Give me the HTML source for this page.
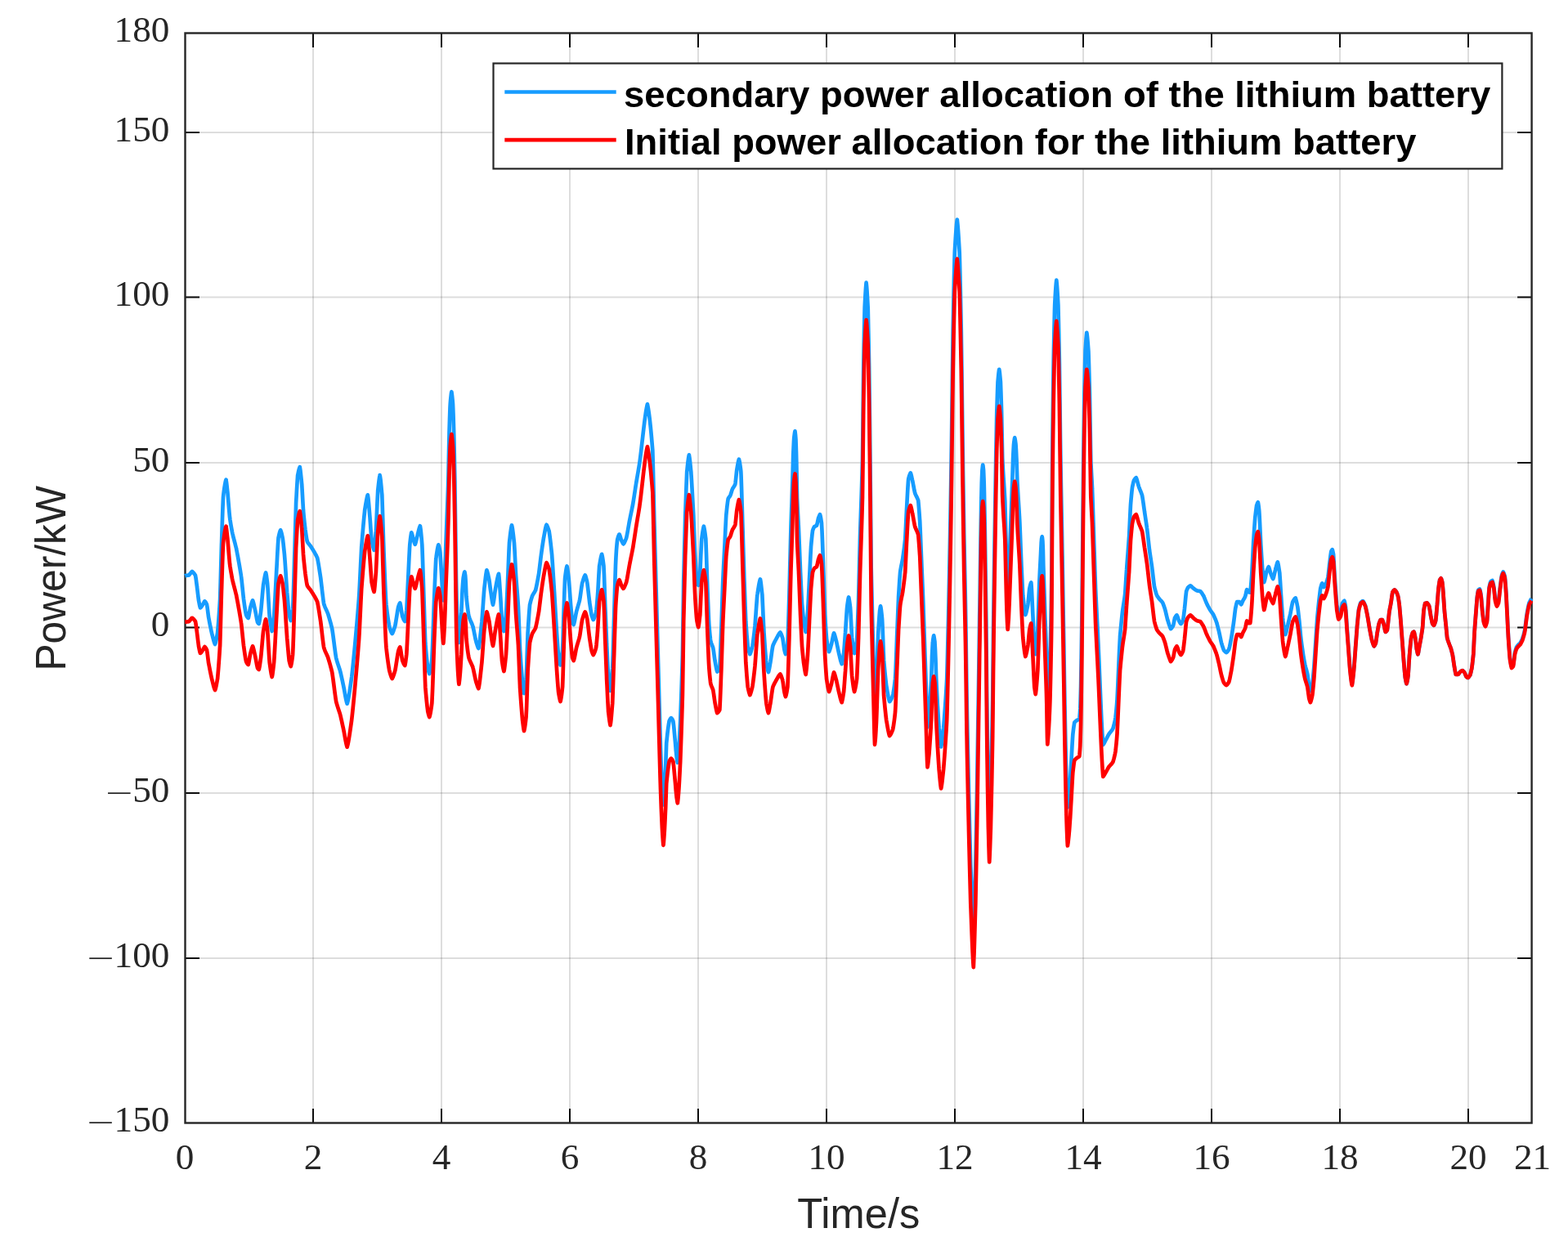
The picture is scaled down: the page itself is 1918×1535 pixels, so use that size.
<!DOCTYPE html>
<html lang="en">
<head>
<meta charset="utf-8">
<title>Lithium battery power allocation</title>
<style>
html,body{margin:0;padding:0;background:#ffffff;}
body{width:1918px;height:1535px;overflow:hidden;}
svg{display:block;}
</style>
</head>
<body>
<svg width="1918" height="1535" viewBox="0 0 1918 1535" role="img" aria-label="Lithium battery power allocation over time">
<rect x="0" y="0" width="1918" height="1535" fill="#ffffff"/>
<g stroke="#262626" stroke-opacity="0.155" stroke-width="2" fill="none">
<line x1="383.0" y1="40.5" x2="383.0" y2="1373.5"/>
<line x1="540.0" y1="40.5" x2="540.0" y2="1373.5"/>
<line x1="697.0" y1="40.5" x2="697.0" y2="1373.5"/>
<line x1="854.0" y1="40.5" x2="854.0" y2="1373.5"/>
<line x1="1011.0" y1="40.5" x2="1011.0" y2="1373.5"/>
<line x1="1168.0" y1="40.5" x2="1168.0" y2="1373.5"/>
<line x1="1325.0" y1="40.5" x2="1325.0" y2="1373.5"/>
<line x1="1482.0" y1="40.5" x2="1482.0" y2="1373.5"/>
<line x1="1639.0" y1="40.5" x2="1639.0" y2="1373.5"/>
<line x1="1796.0" y1="40.5" x2="1796.0" y2="1373.5"/>
<line x1="226.5" y1="162.0" x2="1873.6" y2="162.0"/>
<line x1="226.5" y1="363.5" x2="1873.6" y2="363.5"/>
<line x1="226.5" y1="566.0" x2="1873.6" y2="566.0"/>
<line x1="226.5" y1="767.5" x2="1873.6" y2="767.5"/>
<line x1="226.5" y1="970.0" x2="1873.6" y2="970.0"/>
<line x1="226.5" y1="1172.0" x2="1873.6" y2="1172.0"/>
</g>
<g stroke="#0d0d0d" stroke-width="2" fill="none">
<line x1="383.0" y1="1373.5" x2="383.0" y2="1356.0"/>
<line x1="383.0" y1="40.5" x2="383.0" y2="58.0"/>
<line x1="540.0" y1="1373.5" x2="540.0" y2="1356.0"/>
<line x1="540.0" y1="40.5" x2="540.0" y2="58.0"/>
<line x1="697.0" y1="1373.5" x2="697.0" y2="1356.0"/>
<line x1="697.0" y1="40.5" x2="697.0" y2="58.0"/>
<line x1="854.0" y1="1373.5" x2="854.0" y2="1356.0"/>
<line x1="854.0" y1="40.5" x2="854.0" y2="58.0"/>
<line x1="1011.0" y1="1373.5" x2="1011.0" y2="1356.0"/>
<line x1="1011.0" y1="40.5" x2="1011.0" y2="58.0"/>
<line x1="1168.0" y1="1373.5" x2="1168.0" y2="1356.0"/>
<line x1="1168.0" y1="40.5" x2="1168.0" y2="58.0"/>
<line x1="1325.0" y1="1373.5" x2="1325.0" y2="1356.0"/>
<line x1="1325.0" y1="40.5" x2="1325.0" y2="58.0"/>
<line x1="1482.0" y1="1373.5" x2="1482.0" y2="1356.0"/>
<line x1="1482.0" y1="40.5" x2="1482.0" y2="58.0"/>
<line x1="1639.0" y1="1373.5" x2="1639.0" y2="1356.0"/>
<line x1="1639.0" y1="40.5" x2="1639.0" y2="58.0"/>
<line x1="1796.0" y1="1373.5" x2="1796.0" y2="1356.0"/>
<line x1="1796.0" y1="40.5" x2="1796.0" y2="58.0"/>
<line x1="226.5" y1="162.0" x2="244.0" y2="162.0"/>
<line x1="1873.6" y1="162.0" x2="1856.1" y2="162.0"/>
<line x1="226.5" y1="363.5" x2="244.0" y2="363.5"/>
<line x1="1873.6" y1="363.5" x2="1856.1" y2="363.5"/>
<line x1="226.5" y1="566.0" x2="244.0" y2="566.0"/>
<line x1="1873.6" y1="566.0" x2="1856.1" y2="566.0"/>
<line x1="226.5" y1="767.5" x2="244.0" y2="767.5"/>
<line x1="1873.6" y1="767.5" x2="1856.1" y2="767.5"/>
<line x1="226.5" y1="970.0" x2="244.0" y2="970.0"/>
<line x1="1873.6" y1="970.0" x2="1856.1" y2="970.0"/>
<line x1="226.5" y1="1172.0" x2="244.0" y2="1172.0"/>
<line x1="1873.6" y1="1172.0" x2="1856.1" y2="1172.0"/>
</g>
<rect x="226.5" y="40.5" width="1647.1" height="1333.0" fill="none" stroke="#262626" stroke-width="2.4"/>
<g fill="none" stroke-linejoin="round" stroke-linecap="butt" stroke-width="4.7">
<path stroke="#169cff" d="M226.4 704.2 L226.5 704.1 L227.0 704.1 L227.5 704.0 L228.0 703.9 L228.5 703.9 L229.0 703.8 L229.5 703.7 L230.0 703.6 L230.5 703.6 L231.0 703.5 L231.0 703.5 L231.5 703.0 L232.0 702.5 L232.5 701.8 L233.0 701.2 L233.5 700.5 L234.0 699.9 L234.5 699.4 L235.0 699.0 L235.0 699.0 L235.5 699.3 L236.0 699.8 L236.5 700.3 L237.0 700.9 L237.5 701.5 L238.0 702.2 L238.5 703.0 L239.0 703.8 L239.0 703.9 L239.5 706.6 L240.0 710.1 L240.5 714.1 L241.0 717.9 L241.0 718.1 L241.5 722.0 L242.0 726.3 L242.5 730.4 L243.0 734.2 L243.0 734.3 L243.5 736.9 L244.0 739.5 L244.5 741.7 L245.0 743.3 L245.0 743.4 L245.5 743.0 L246.0 742.5 L246.5 741.8 L247.0 741.1 L247.5 740.3 L248.0 739.6 L248.0 739.5 L248.5 738.7 L249.0 737.7 L249.5 736.7 L250.0 735.8 L250.4 735.3 L250.5 735.3 L251.0 735.8 L251.5 736.5 L252.0 737.4 L252.5 738.3 L253.0 739.4 L253.0 739.4 L253.5 742.3 L254.0 746.2 L254.5 750.3 L255.0 754.1 L255.0 754.4 L255.5 756.9 L256.0 759.6 L256.5 762.2 L257.0 764.7 L257.5 767.1 L258.0 769.5 L258.5 771.9 L259.0 774.1 L259.0 774.3 L259.5 776.1 L260.0 778.1 L260.5 780.1 L261.0 782.0 L261.5 783.9 L262.0 785.5 L262.5 786.9 L263.0 788.0 L263.0 788.0 L263.5 786.7 L264.0 784.8 L264.5 782.5 L265.0 780.0 L265.5 777.2 L266.0 774.3 L266.1 774.0 L266.5 769.2 L267.0 763.4 L267.5 757.0 L268.0 750.1 L268.5 742.6 L269.0 734.6 L269.1 733.8 L269.5 719.9 L270.0 702.0 L270.5 683.2 L271.0 665.3 L271.1 663.6 L271.5 649.9 L272.0 634.5 L272.5 620.2 L273.0 608.4 L273.1 607.3 L273.5 603.7 L274.0 599.9 L274.5 596.4 L275.0 593.3 L275.5 590.6 L276.0 588.3 L276.5 586.7 L276.5 586.8 L277.0 589.8 L277.5 594.0 L278.0 598.8 L278.5 603.1 L278.5 603.5 L279.0 609.1 L279.5 615.1 L280.0 621.2 L280.5 627.1 L281.0 632.5 L281.1 633.1 L281.5 636.1 L282.0 639.3 L282.5 642.3 L283.0 645.2 L283.5 648.0 L284.0 650.7 L284.1 651.1 L284.5 653.0 L285.0 655.1 L285.5 657.1 L286.0 659.0 L286.5 660.9 L287.0 662.8 L287.5 664.7 L288.0 666.7 L288.5 668.7 L289.0 670.8 L289.1 671.1 L289.5 673.4 L290.0 676.0 L290.5 678.6 L291.0 681.3 L291.5 684.0 L292.0 686.8 L292.5 689.6 L293.0 692.5 L293.5 695.4 L294.0 698.4 L294.5 701.5 L295.0 704.7 L295.1 705.2 L295.5 708.8 L296.0 713.5 L296.5 718.3 L297.0 723.2 L297.5 728.0 L298.0 732.5 L298.1 733.2 L298.5 736.1 L299.0 739.7 L299.5 743.1 L300.0 746.4 L300.5 749.3 L301.0 751.8 L301.1 752.2 L301.5 753.0 L302.0 753.9 L302.5 754.7 L303.0 755.3 L303.5 755.9 L303.7 756.0 L304.0 755.0 L304.5 752.7 L305.0 749.8 L305.5 746.8 L306.0 744.1 L306.1 743.7 L306.5 742.2 L307.0 740.4 L307.5 738.6 L308.0 737.0 L308.5 735.6 L309.0 734.6 L309.1 734.4 L309.5 735.4 L310.0 737.1 L310.5 739.1 L311.0 741.3 L311.5 743.6 L312.0 745.8 L312.1 746.2 L312.5 748.2 L313.0 750.9 L313.5 753.7 L314.0 756.4 L314.5 758.8 L315.0 760.9 L315.1 761.2 L315.5 761.8 L316.0 762.4 L316.5 762.9 L316.7 763.0 L317.0 761.9 L317.5 759.2 L318.0 756.0 L318.5 752.3 L319.0 748.7 L319.1 747.9 L319.5 744.0 L320.0 738.5 L320.5 732.8 L321.0 727.0 L321.5 721.5 L322.0 716.5 L322.1 715.5 L322.5 713.2 L323.0 710.2 L323.5 707.3 L324.0 704.6 L324.5 702.4 L325.0 700.7 L325.1 700.4 L325.5 702.0 L326.0 705.0 L326.5 708.7 L327.0 712.6 L327.1 713.4 L327.5 718.7 L328.0 726.7 L328.5 735.2 L329.0 743.6 L329.5 751.1 L329.7 753.8 L330.0 756.0 L330.5 759.6 L331.0 763.1 L331.5 766.3 L332.0 769.1 L332.5 771.3 L332.7 772.0 L333.0 770.8 L333.5 767.8 L334.0 764.0 L334.5 759.8 L335.0 755.3 L335.1 754.2 L335.5 748.5 L336.0 740.0 L336.5 730.9 L337.0 721.3 L337.5 711.7 L338.0 702.4 L338.1 700.2 L338.5 693.3 L339.0 683.6 L339.5 674.1 L340.0 665.5 L340.5 658.4 L340.5 658.1 L341.0 655.8 L341.5 653.5 L342.0 651.5 L342.5 649.9 L343.0 648.6 L343.1 648.3 L343.5 649.2 L344.0 650.7 L344.5 652.6 L345.0 654.8 L345.5 657.1 L345.7 658.1 L346.0 660.2 L346.5 664.3 L347.0 668.9 L347.5 673.8 L348.0 678.8 L348.1 680.1 L348.5 685.1 L349.0 692.3 L349.5 699.9 L350.0 707.6 L350.5 715.1 L351.0 722.3 L351.1 724.2 L351.5 728.4 L352.0 734.3 L352.5 740.1 L353.0 745.5 L353.5 750.2 L353.7 752.2 L354.0 753.3 L354.5 755.3 L355.0 757.1 L355.5 758.5 L355.7 759.0 L356.0 758.2 L356.5 755.9 L357.0 753.0 L357.5 749.6 L358.0 745.8 L358.1 744.7 L358.5 736.4 L359.0 722.1 L359.5 705.9 L360.0 689.5 L360.1 684.8 L360.5 672.6 L361.0 654.3 L361.5 636.2 L362.0 619.6 L362.1 615.2 L362.5 608.4 L363.0 599.0 L363.5 590.6 L364.0 583.4 L364.1 581.6 L364.5 579.7 L365.0 577.3 L365.5 575.1 L366.0 573.2 L366.5 571.8 L366.8 571.2 L367.0 572.5 L367.5 575.9 L368.0 580.4 L368.5 585.3 L369.0 590.5 L369.2 592.2 L369.5 597.4 L370.0 606.2 L370.5 615.3 L371.0 623.8 L371.2 626.2 L371.5 629.7 L372.0 634.7 L372.5 639.4 L373.0 643.8 L373.5 648.1 L373.8 650.2 L374.0 651.8 L374.5 655.2 L375.0 658.3 L375.5 661.1 L375.8 662.3 L376.0 662.7 L376.5 663.6 L377.0 664.3 L377.5 665.0 L378.0 665.6 L378.5 666.2 L379.0 666.8 L379.5 667.5 L380.0 668.1 L380.2 668.4 L380.5 668.9 L381.0 669.7 L381.5 670.4 L382.0 671.2 L382.5 672.0 L383.0 672.8 L383.5 673.7 L384.0 674.5 L384.5 675.3 L385.0 676.2 L385.2 676.5 L385.5 677.1 L386.0 678.0 L386.5 678.9 L387.0 679.9 L387.5 681.0 L388.0 682.1 L388.2 682.5 L388.5 684.0 L389.0 686.6 L389.5 689.4 L390.0 692.5 L390.5 695.6 L391.0 698.9 L391.5 702.2 L392.0 705.4 L392.2 706.6 L392.5 709.1 L393.0 713.2 L393.5 717.5 L394.0 721.9 L394.5 726.2 L395.0 730.3 L395.5 734.2 L396.0 737.6 L396.2 738.7 L396.5 739.7 L397.0 741.0 L397.5 742.3 L398.0 743.5 L398.5 744.6 L399.0 745.7 L399.5 746.8 L400.0 747.9 L400.5 749.1 L401.0 750.3 L401.2 750.8 L401.5 751.8 L402.0 753.5 L402.5 755.1 L403.0 756.8 L403.5 758.6 L404.0 760.4 L404.5 762.2 L405.0 764.1 L405.5 766.1 L406.0 768.1 L406.2 768.9 L406.5 770.8 L407.0 774.2 L407.5 777.8 L408.0 781.6 L408.5 785.5 L409.0 789.5 L409.5 793.3 L410.0 797.1 L410.5 800.6 L411.0 803.8 L411.2 805.0 L411.5 806.2 L412.0 807.9 L412.5 809.6 L413.0 811.2 L413.5 812.7 L414.0 814.2 L414.5 815.7 L415.0 817.2 L415.5 818.8 L416.0 820.4 L416.2 821.1 L416.5 822.4 L417.0 824.5 L417.5 826.8 L418.0 829.0 L418.5 831.3 L419.0 833.6 L419.5 836.0 L420.0 838.3 L420.2 839.2 L420.5 840.7 L421.0 843.3 L421.5 846.1 L422.0 849.0 L422.5 851.8 L423.0 854.4 L423.5 856.8 L424.0 858.8 L424.5 860.4 L424.6 860.7 L425.0 859.5 L425.5 857.5 L426.0 855.2 L426.5 852.5 L427.0 849.6 L427.5 846.5 L428.0 843.2 L428.5 839.8 L429.0 836.3 L429.5 832.9 L430.0 829.4 L430.2 828.0 L430.5 825.5 L431.0 820.9 L431.5 816.2 L432.0 811.2 L432.5 806.2 L433.0 801.1 L433.5 795.9 L434.0 790.7 L434.2 788.4 L434.5 785.3 L435.0 779.7 L435.5 774.0 L436.0 768.4 L436.5 762.7 L437.0 756.9 L437.5 750.9 L438.0 744.8 L438.5 738.5 L439.0 732.0 L439.2 728.9 L439.5 724.0 L440.0 714.2 L440.5 703.8 L441.0 693.3 L441.5 683.0 L442.0 673.4 L442.2 669.3 L442.5 665.8 L443.0 659.4 L443.5 653.2 L444.0 647.2 L444.5 641.5 L445.0 636.0 L445.5 630.8 L446.0 625.9 L446.2 623.6 L446.5 622.0 L447.0 619.0 L447.5 615.9 L448.0 613.1 L448.5 610.4 L449.0 608.1 L449.5 606.2 L449.8 605.3 L450.0 606.2 L450.5 610.1 L451.0 615.3 L451.5 621.1 L452.0 627.1 L452.2 629.7 L452.5 633.1 L453.0 640.1 L453.5 647.3 L454.0 654.1 L454.5 660.0 L454.6 661.5 L455.0 663.2 L455.5 665.6 L456.0 667.8 L456.5 669.7 L457.0 671.4 L457.5 672.6 L457.6 672.9 L458.0 670.6 L458.5 665.9 L459.0 660.1 L459.5 653.8 L459.9 649.4 L460.0 646.7 L460.5 636.5 L461.0 625.3 L461.5 614.1 L462.0 604.1 L462.2 599.8 L462.5 597.4 L463.0 592.7 L463.5 588.4 L464.0 584.7 L464.5 581.9 L464.6 581.2 L465.0 583.0 L465.5 586.6 L466.0 591.2 L466.5 596.4 L467.0 602.1 L467.3 605.2 L467.5 611.3 L468.0 626.6 L468.5 643.7 L469.0 660.6 L469.3 668.6 L469.5 674.6 L470.0 687.2 L470.5 699.7 L471.0 711.7 L471.5 722.9 L472.0 732.9 L472.3 737.6 L472.5 739.8 L473.0 744.1 L473.5 748.2 L474.0 752.0 L474.5 755.5 L475.0 758.8 L475.5 761.9 L476.0 764.9 L476.3 766.4 L476.5 767.1 L477.0 768.7 L477.5 770.2 L478.0 771.6 L478.5 772.9 L479.0 774.0 L479.5 774.8 L479.7 775.0 L480.0 774.6 L480.5 773.6 L481.0 772.4 L481.5 771.1 L482.0 769.6 L482.5 768.1 L483.0 766.5 L483.3 765.6 L483.5 764.5 L484.0 761.8 L484.5 758.7 L485.0 755.5 L485.5 752.3 L486.0 749.1 L486.5 746.1 L487.0 743.4 L487.3 742.0 L487.5 741.4 L488.0 740.0 L488.5 738.8 L489.0 737.8 L489.3 737.4 L489.5 738.1 L490.0 740.4 L490.5 743.4 L491.0 746.7 L491.5 750.0 L492.0 752.9 L492.3 754.2 L492.5 754.7 L493.0 755.9 L493.5 757.1 L494.0 758.1 L494.5 759.0 L495.0 759.7 L495.3 760.0 L495.5 759.2 L496.0 756.4 L496.5 752.8 L497.0 748.7 L497.3 746.2 L497.5 742.8 L498.0 733.4 L498.5 722.9 L499.0 712.2 L499.3 706.2 L499.5 701.9 L500.0 691.2 L500.5 680.7 L501.0 671.0 L501.3 666.2 L501.5 664.2 L502.0 659.8 L502.5 655.8 L503.0 652.6 L503.3 651.3 L503.5 651.7 L504.0 653.2 L504.5 655.1 L505.0 657.1 L505.3 658.1 L505.5 658.8 L506.0 660.7 L506.5 662.5 L507.0 664.2 L507.5 665.5 L507.7 665.9 L508.0 665.2 L508.5 663.6 L509.0 661.6 L509.5 659.4 L510.0 657.3 L510.3 656.1 L510.5 655.4 L511.0 653.4 L511.5 651.4 L512.0 649.3 L512.5 647.4 L513.0 645.6 L513.5 644.2 L513.9 643.3 L514.0 643.8 L514.5 647.1 L515.0 651.5 L515.5 656.8 L516.0 662.6 L516.3 666.4 L516.5 670.9 L517.0 684.9 L517.5 700.7 L518.0 716.9 L518.3 726.6 L518.5 732.4 L519.0 748.4 L519.5 764.4 L520.0 779.0 L520.3 786.8 L520.5 789.2 L521.0 795.2 L521.5 800.7 L522.0 805.8 L522.5 810.4 L523.0 814.7 L523.3 817.1 L523.5 817.9 L524.0 820.0 L524.5 821.9 L525.0 823.4 L525.3 824.1 L525.5 823.5 L526.0 821.6 L526.5 819.2 L527.0 816.3 L527.5 813.1 L528.0 809.6 L528.3 807.3 L528.5 803.9 L529.0 792.5 L529.5 779.2 L530.0 764.8 L530.5 750.0 L531.0 735.8 L531.3 727.3 L531.5 723.1 L532.0 711.1 L532.5 699.3 L533.0 688.8 L533.3 683.1 L533.5 681.9 L534.0 678.3 L534.5 675.0 L535.0 672.0 L535.5 669.4 L536.0 667.4 L536.3 666.3 L536.5 666.8 L537.0 668.5 L537.5 670.8 L538.0 673.4 L538.3 675.3 L538.5 677.3 L539.0 684.6 L539.5 693.0 L540.0 701.7 L540.3 707.4 L540.5 710.4 L540.9 717.5 L541.0 719.2 L541.5 726.4 L541.5 726.5 L542.0 731.9 L542.3 734.4 L542.5 732.9 L543.0 726.0 L543.5 717.3 L543.6 715.6 L544.0 706.2 L544.5 693.3 L545.0 678.1 L545.3 667.7 L545.5 663.3 L546.0 650.2 L546.5 637.7 L547.0 625.2 L547.5 612.2 L548.0 598.2 L548.3 587.9 L548.5 580.4 L549.0 553.9 L549.5 530.7 L549.5 529.3 L550.0 512.8 L550.5 498.4 L550.7 494.6 L551.0 490.6 L551.5 485.4 L552.0 481.1 L552.4 479.2 L552.5 480.0 L553.0 483.7 L553.5 488.7 L554.0 494.5 L554.0 494.9 L554.5 507.3 L555.0 523.3 L555.2 531.1 L555.5 543.7 L556.0 569.5 L556.4 588.5 L556.5 598.4 L557.0 634.8 L557.5 672.7 L558.0 708.0 L558.4 728.8 L558.5 733.2 L559.0 746.1 L559.2 750.7 L559.5 757.6 L560.0 768.1 L560.1 769.8 L560.5 776.0 L561.0 782.8 L561.4 786.0 L561.5 785.3 L562.0 781.3 L562.5 776.3 L562.6 775.2 L563.0 770.2 L563.5 763.1 L563.5 762.8 L564.0 755.0 L564.4 748.7 L564.5 745.6 L565.0 733.8 L565.5 723.1 L565.5 722.8 L566.0 715.4 L566.5 708.9 L566.7 706.9 L567.0 705.1 L567.5 702.5 L568.0 700.4 L568.4 699.4 L568.5 699.9 L569.0 702.8 L569.2 704.2 L569.5 708.4 L569.8 713.6 L570.0 718.9 L570.4 728.5 L570.5 730.1 L571.0 735.2 L571.5 739.8 L572.0 743.8 L572.5 747.5 L573.0 750.9 L573.4 753.2 L573.5 753.6 L574.0 755.1 L574.5 756.5 L575.0 757.8 L575.5 759.0 L576.0 760.1 L576.5 761.3 L577.0 762.4 L577.5 763.7 L578.0 765.0 L578.4 766.0 L578.5 766.6 L579.0 768.7 L579.5 771.1 L580.0 773.5 L580.5 776.0 L581.0 778.5 L581.5 780.9 L582.0 783.2 L582.4 784.8 L582.5 785.2 L583.0 786.8 L583.5 788.4 L584.0 789.9 L584.5 791.3 L585.0 792.5 L585.4 793.0 L585.5 792.5 L586.0 789.8 L586.5 786.4 L587.0 782.5 L587.5 778.1 L588.0 773.5 L588.5 768.7 L589.0 763.9 L589.4 760.4 L589.5 758.9 L590.0 752.5 L590.5 745.5 L591.0 738.3 L591.5 731.2 L592.0 724.4 L592.4 719.7 L592.5 718.7 L593.0 714.4 L593.5 710.0 L594.0 705.8 L594.5 702.1 L595.0 699.1 L595.4 697.4 L595.5 697.6 L596.0 699.0 L596.5 700.8 L597.0 702.9 L597.5 705.2 L598.0 707.6 L598.4 709.5 L598.5 710.2 L599.0 713.9 L599.5 717.9 L600.0 721.7 L600.5 725.0 L601.0 728.5 L601.5 732.0 L602.0 735.1 L602.5 737.8 L603.0 739.8 L603.5 737.6 L604.0 734.6 L604.5 731.1 L605.0 727.3 L605.5 723.6 L606.0 720.3 L606.0 720.2 L606.5 717.7 L607.0 715.0 L607.5 712.3 L608.0 709.7 L608.5 707.2 L609.0 705.1 L609.5 703.2 L610.0 701.8 L610.0 701.8 L610.5 706.1 L611.0 712.4 L611.5 719.6 L612.0 726.7 L612.0 726.8 L612.5 734.7 L613.0 743.4 L613.5 751.8 L614.0 758.9 L614.0 759.0 L614.5 762.3 L615.0 765.5 L615.5 768.4 L616.0 770.7 L616.4 772.1 L616.5 771.8 L617.0 769.1 L617.5 765.5 L618.0 761.3 L618.5 756.6 L619.0 751.7 L619.0 751.5 L619.5 743.2 L620.0 733.3 L620.5 722.8 L621.0 712.1 L621.0 711.7 L621.5 700.0 L622.0 687.1 L622.5 674.7 L623.0 664.3 L623.0 663.9 L623.5 659.5 L624.0 655.1 L624.5 651.1 L625.0 647.5 L625.5 644.6 L626.0 642.4 L626.0 642.3 L626.5 644.5 L627.0 647.5 L627.5 651.2 L628.0 655.3 L628.5 659.7 L629.0 664.2 L629.0 664.5 L629.5 672.5 L630.0 682.4 L630.5 692.7 L631.0 702.3 L631.0 702.8 L631.5 709.4 L632.0 716.0 L632.5 722.3 L633.0 728.6 L633.5 735.4 L634.0 742.7 L634.0 743.4 L634.5 754.3 L635.0 767.4 L635.5 780.7 L636.0 792.8 L636.0 793.6 L636.5 800.7 L637.0 808.0 L637.5 814.9 L638.0 821.5 L638.5 827.7 L639.0 833.6 L639.0 834.0 L639.5 837.8 L640.0 841.9 L640.5 845.4 L641.0 848.0 L641.0 848.1 L641.5 846.2 L642.0 843.3 L642.5 839.9 L643.0 835.9 L643.5 831.5 L643.6 830.1 L644.0 822.1 L644.5 807.7 L645.0 792.1 L645.5 777.8 L645.6 774.1 L646.0 768.3 L646.5 760.4 L647.0 752.9 L647.5 746.3 L648.0 740.5 L648.0 740.0 L648.5 738.0 L649.0 735.9 L649.5 734.0 L650.0 732.3 L650.5 730.7 L651.0 729.1 L651.0 729.0 L651.5 728.1 L652.0 727.2 L652.5 726.3 L653.0 725.5 L653.5 724.7 L654.0 723.9 L654.5 723.0 L655.0 722.0 L655.1 721.9 L655.5 720.1 L656.0 717.9 L656.5 715.5 L657.0 713.0 L657.5 710.4 L658.0 707.7 L658.5 704.9 L659.0 702.1 L659.1 701.8 L659.5 698.5 L660.0 694.5 L660.5 690.4 L661.0 686.3 L661.5 682.1 L662.0 678.2 L662.1 677.7 L662.5 674.6 L663.0 671.2 L663.5 667.7 L664.0 664.4 L664.5 661.1 L665.0 658.0 L665.1 657.6 L665.5 655.3 L666.0 652.6 L666.5 649.9 L667.0 647.3 L667.5 645.0 L668.0 643.0 L668.5 641.8 L668.5 641.8 L669.0 642.6 L669.5 643.7 L670.0 644.9 L670.5 646.3 L671.0 647.8 L671.5 649.4 L671.7 649.9 L672.0 652.0 L672.5 655.6 L673.0 659.5 L673.5 663.7 L674.0 668.2 L674.5 672.8 L675.0 677.6 L675.1 678.4 L675.5 684.2 L676.0 691.5 L676.5 699.3 L677.0 707.3 L677.5 715.5 L678.0 723.5 L678.1 724.7 L678.5 731.7 L679.0 740.2 L679.5 748.8 L680.0 757.4 L680.5 765.7 L681.0 773.8 L681.1 775.1 L681.5 781.0 L682.0 788.0 L682.5 794.7 L683.0 800.5 L683.1 801.5 L683.5 804.0 L684.0 807.0 L684.5 809.7 L685.0 811.9 L685.5 813.4 L685.5 813.4 L686.0 811.3 L686.5 808.4 L687.0 804.9 L687.5 800.8 L688.0 796.4 L688.1 795.5 L688.5 784.8 L689.0 768.5 L689.5 751.4 L689.7 745.5 L690.0 736.4 L690.5 721.7 L691.0 709.1 L691.1 707.3 L691.5 703.9 L692.0 700.2 L692.5 696.9 L693.0 694.3 L693.5 692.4 L694.0 694.7 L694.5 698.0 L695.0 701.8 L695.5 705.9 L695.7 707.5 L696.0 711.0 L696.5 717.6 L697.0 724.6 L697.5 731.7 L698.0 738.5 L698.1 739.7 L698.5 744.2 L699.0 749.7 L699.5 754.9 L700.0 759.2 L700.1 760.0 L700.5 761.2 L701.0 762.6 L701.5 763.7 L701.7 764.0 L702.0 763.2 L702.5 761.3 L703.0 759.0 L703.5 756.4 L704.0 753.6 L704.5 750.9 L705.0 748.5 L705.1 748.0 L705.5 746.5 L706.0 744.8 L706.5 743.0 L707.0 741.4 L707.5 739.7 L708.0 737.9 L708.5 736.1 L709.0 734.1 L709.1 733.7 L709.5 731.3 L710.0 727.9 L710.5 724.3 L711.0 720.6 L711.5 717.2 L712.0 714.1 L712.1 713.4 L712.5 712.1 L713.0 710.5 L713.5 708.8 L714.0 707.3 L714.5 705.9 L715.0 704.7 L715.5 703.7 L715.7 703.4 L716.0 703.9 L716.5 705.3 L717.0 707.1 L717.5 709.0 L718.0 711.1 L718.1 711.6 L718.5 714.2 L719.0 718.1 L719.5 722.4 L720.0 726.8 L720.5 731.1 L721.0 735.2 L721.1 736.2 L721.5 738.8 L722.0 742.2 L722.5 745.5 L723.0 748.7 L723.5 751.6 L723.7 752.8 L724.0 753.6 L724.5 755.1 L725.0 756.5 L725.5 757.6 L725.7 758.0 L726.0 757.6 L726.5 756.7 L727.0 755.6 L727.5 754.3 L728.0 752.8 L728.5 751.2 L729.0 749.5 L729.1 749.0 L729.5 745.8 L730.0 740.6 L730.5 734.7 L731.0 728.5 L731.1 726.8 L731.5 720.9 L732.0 711.7 L732.5 702.5 L733.0 694.6 L733.1 692.7 L733.5 690.4 L734.0 687.3 L734.5 684.5 L735.0 681.9 L735.5 679.8 L736.0 678.1 L736.1 677.8 L736.5 679.1 L737.0 681.7 L737.5 684.8 L738.0 688.5 L738.5 692.6 L738.5 692.9 L739.0 703.6 L739.5 718.2 L740.0 733.2 L740.1 737.4 L740.5 746.4 L741.0 759.2 L741.5 771.8 L742.0 784.1 L742.1 787.7 L742.5 795.2 L743.0 806.1 L743.5 816.4 L744.0 825.6 L744.1 828.0 L744.5 831.1 L745.0 835.4 L745.5 839.3 L746.0 842.5 L746.5 844.8 L746.5 845.0 L747.0 842.0 L747.5 837.5 L748.0 832.1 L748.5 826.0 L749.0 819.5 L749.2 817.4 L749.5 808.7 L750.0 794.0 L750.5 776.3 L751.0 758.8 L751.2 753.4 L751.5 741.7 L752.0 724.1 L752.5 706.9 L753.0 691.3 L753.2 686.9 L753.5 680.9 L754.0 672.6 L754.5 666.6 L755.0 661.5 L755.2 660.1 L755.5 658.9 L756.0 657.1 L756.5 655.6 L757.0 654.4 L757.5 653.5 L757.6 653.5 L758.0 654.4 L758.5 655.8 L759.0 657.4 L759.5 659.0 L760.0 660.6 L760.2 661.0 L760.5 661.7 L761.0 662.8 L761.5 663.8 L762.0 664.7 L762.5 665.3 L762.6 665.4 L763.0 664.9 L763.5 664.1 L764.0 663.1 L764.5 662.0 L765.0 660.8 L765.5 659.6 L766.0 658.3 L766.2 657.9 L766.5 656.4 L767.0 654.0 L767.5 651.4 L768.0 648.6 L768.5 645.7 L769.0 642.8 L769.5 639.9 L770.0 637.2 L770.2 636.2 L770.5 634.6 L771.0 632.1 L771.5 629.7 L772.0 627.3 L772.5 624.9 L773.0 622.5 L773.5 620.0 L774.0 617.5 L774.2 616.5 L774.5 614.6 L775.0 611.5 L775.5 608.3 L776.0 605.0 L776.5 601.8 L777.0 598.5 L777.5 595.2 L778.0 592.0 L778.2 590.8 L778.5 589.0 L779.0 586.0 L779.5 583.1 L780.0 580.2 L780.5 577.3 L781.0 574.3 L781.5 571.4 L782.0 568.3 L782.2 567.2 L782.5 565.0 L783.0 561.2 L783.5 557.3 L784.0 553.2 L784.5 548.9 L785.0 544.6 L785.5 540.3 L786.0 535.9 L786.5 531.5 L787.0 527.2 L787.5 522.9 L788.0 518.8 L788.5 514.8 L789.0 511.0 L789.5 507.5 L790.0 504.1 L790.5 501.1 L791.0 498.4 L791.5 496.0 L791.9 494.3 L792.0 494.7 L792.5 497.2 L793.0 500.0 L793.5 503.3 L794.0 506.9 L794.5 510.8 L795.0 515.1 L795.5 519.7 L796.0 524.6 L796.5 529.8 L797.0 535.3 L797.5 541.1 L798.0 547.2 L798.3 550.8 L798.5 557.6 L799.0 577.3 L799.5 600.0 L800.0 623.1 L800.3 636.9 L800.5 643.7 L801.0 662.4 L801.5 680.8 L802.0 699.0 L802.5 717.0 L803.0 735.0 L803.5 752.9 L804.0 770.9 L804.5 788.9 L804.8 799.8 L805.0 807.1 L805.5 825.6 L806.0 844.3 L806.5 862.9 L807.0 881.1 L807.5 898.9 L807.8 908.5 L808.0 915.0 L808.5 929.3 L808.8 937.5 L809.0 942.4 L809.5 954.3 L809.9 963.0 L810.0 964.6 L810.5 972.7 L811.0 979.9 L811.4 984.3 L811.5 983.9 L812.0 978.7 L812.5 971.5 L813.0 963.7 L813.0 963.3 L813.5 953.4 L814.0 942.0 L814.2 938.0 L814.5 928.7 L815.0 914.4 L815.2 909.0 L815.5 906.1 L816.0 901.2 L816.5 896.6 L817.0 892.5 L817.5 888.8 L818.0 885.4 L818.5 882.5 L818.6 881.9 L819.0 881.0 L819.5 880.1 L820.0 879.2 L820.5 878.5 L820.9 878.1 L821.0 878.1 L821.5 878.6 L822.0 879.3 L822.5 880.1 L823.0 881.1 L823.4 881.8 L823.5 882.7 L824.0 886.7 L824.5 891.6 L825.0 897.0 L825.5 902.6 L826.0 908.1 L826.1 909.0 L826.5 913.9 L826.8 917.9 L827.0 919.5 L827.5 924.4 L827.6 925.7 L828.0 928.2 L828.5 931.5 L828.8 932.8 L829.0 931.5 L829.5 926.8 L830.0 920.9 L830.2 918.5 L830.5 914.0 L831.0 905.5 L831.2 901.5 L831.5 896.2 L832.0 885.9 L832.2 882.0 L832.5 873.4 L833.0 859.8 L833.5 845.7 L834.0 830.7 L834.5 814.5 L834.9 800.8 L835.0 794.6 L835.5 761.4 L836.0 726.5 L836.2 710.9 L836.5 699.7 L837.0 678.7 L837.5 658.9 L838.0 640.1 L838.2 631.0 L838.5 623.6 L839.0 608.8 L839.5 594.7 L840.0 582.4 L840.2 577.1 L840.5 574.5 L841.0 569.6 L841.5 565.1 L842.0 561.2 L842.5 558.1 L842.9 556.4 L843.0 557.1 L843.5 560.2 L844.0 564.4 L844.5 569.2 L845.0 574.2 L845.3 576.9 L845.5 580.4 L846.0 588.5 L846.5 597.1 L847.0 606.2 L847.5 615.6 L848.0 625.2 L848.3 630.3 L848.5 636.0 L849.0 648.7 L849.5 661.7 L850.0 674.1 L850.3 679.9 L850.5 683.7 L851.0 691.3 L851.5 698.4 L852.0 704.7 L852.3 707.5 L852.5 708.8 L853.0 711.4 L853.5 713.6 L854.0 715.3 L854.3 715.9 L854.5 714.8 L855.0 711.6 L855.5 707.5 L856.0 702.9 L856.3 700.3 L856.5 696.3 L857.0 685.8 L857.5 674.5 L858.0 664.1 L858.3 659.5 L858.5 657.8 L859.0 654.0 L859.5 650.6 L860.0 647.6 L860.5 645.1 L860.9 643.7 L861.0 644.1 L861.5 646.4 L862.0 649.3 L862.5 652.8 L863.0 656.7 L863.3 658.9 L863.5 663.9 L864.0 677.7 L864.5 693.5 L865.0 709.4 L865.3 717.5 L865.5 722.9 L866.0 735.3 L866.5 747.3 L867.0 758.3 L867.3 763.8 L867.5 766.5 L868.0 772.2 L868.5 777.4 L869.0 782.0 L869.3 784.2 L869.5 785.0 L870.0 786.5 L870.5 787.8 L871.0 789.1 L871.5 790.4 L872.0 791.8 L872.3 792.7 L872.5 794.0 L873.0 797.2 L873.5 800.8 L874.0 804.5 L874.5 808.0 L874.7 809.2 L875.0 810.9 L875.5 813.6 L876.0 816.3 L876.5 818.7 L877.0 820.6 L877.3 821.5 L877.5 821.3 L878.0 821.0 L878.5 820.5 L879.0 819.9 L879.5 819.1 L880.0 818.3 L880.3 817.8 L880.5 814.6 L881.0 804.2 L881.5 791.3 L882.0 777.5 L882.3 769.9 L882.5 763.9 L883.0 748.7 L883.5 733.1 L884.0 718.1 L884.3 709.7 L884.5 705.4 L885.0 695.2 L885.5 685.4 L886.0 675.7 L886.3 669.8 L886.5 665.8 L887.0 655.2 L887.5 644.7 L888.0 635.0 L888.3 629.9 L888.5 627.9 L889.0 623.0 L889.5 618.5 L890.0 614.5 L890.5 611.1 L890.7 610.0 L891.0 609.4 L891.5 608.6 L892.0 607.9 L892.5 607.3 L893.0 606.6 L893.3 606.0 L893.5 605.5 L894.0 604.1 L894.5 602.5 L895.0 600.9 L895.5 599.3 L895.9 598.2 L896.0 598.0 L896.5 597.1 L897.0 596.3 L897.5 595.6 L898.0 594.8 L898.5 594.0 L899.0 593.0 L899.3 592.3 L899.5 591.1 L900.0 586.8 L900.5 581.9 L901.0 577.0 L901.3 574.4 L901.5 573.3 L902.0 570.4 L902.5 567.6 L903.0 565.1 L903.5 563.0 L903.9 561.7 L904.0 562.0 L904.5 564.0 L905.0 566.8 L905.5 570.1 L906.0 573.8 L906.3 576.5 L906.5 580.6 L907.0 595.0 L907.5 612.0 L908.0 629.6 L908.3 640.4 L908.5 646.3 L909.0 663.0 L909.5 679.7 L910.0 696.1 L910.3 706.3 L910.5 711.5 L911.0 725.8 L911.5 739.8 L912.0 752.8 L912.3 760.5 L912.5 763.0 L913.0 770.1 L913.5 776.8 L914.0 782.8 L914.5 788.2 L914.7 790.4 L915.0 791.6 L915.5 793.9 L916.0 796.0 L916.5 797.9 L917.0 799.3 L917.3 800.1 L917.5 799.8 L918.0 798.7 L918.5 797.3 L919.0 795.7 L919.5 793.9 L920.0 792.0 L920.3 790.7 L920.5 789.7 L921.0 786.3 L921.5 782.6 L922.0 778.6 L922.5 774.5 L923.0 770.1 L923.3 767.1 L923.5 765.3 L924.0 758.8 L924.5 751.8 L925.0 744.7 L925.5 737.8 L926.0 731.4 L926.3 727.6 L926.5 726.6 L927.0 723.3 L927.5 720.1 L928.0 717.0 L928.5 714.2 L929.0 711.8 L929.5 709.7 L929.9 708.4 L930.0 708.6 L930.5 711.3 L931.0 715.0 L931.5 719.4 L932.0 724.2 L932.4 727.8 L932.5 730.4 L933.0 740.9 L933.5 752.6 L934.0 764.1 L934.4 771.4 L934.5 773.6 L935.0 781.0 L935.5 788.2 L936.0 795.0 L936.5 801.4 L937.0 807.2 L937.4 810.8 L937.5 811.6 L938.0 814.3 L938.5 816.8 L939.0 819.1 L939.5 820.9 L940.0 822.1 L940.0 822.0 L940.5 820.2 L941.0 817.8 L941.5 815.0 L942.0 812.1 L942.4 810.1 L942.5 809.2 L943.0 805.8 L943.5 802.2 L944.0 798.5 L944.5 795.0 L945.0 791.8 L945.4 789.9 L945.5 789.5 L946.0 788.3 L946.5 787.2 L947.0 786.1 L947.5 785.1 L948.0 784.2 L948.5 783.2 L949.0 782.3 L949.4 781.6 L949.5 781.4 L950.0 780.5 L950.5 779.5 L951.0 778.6 L951.5 777.6 L952.0 776.7 L952.5 775.9 L953.0 775.1 L953.5 774.4 L954.0 773.8 L954.4 773.4 L954.5 773.6 L955.0 774.4 L955.5 775.5 L956.0 776.7 L956.5 778.1 L957.0 779.6 L957.4 780.8 L957.5 781.5 L958.0 784.8 L958.5 788.5 L959.0 792.1 L959.4 794.5 L959.5 795.0 L960.0 797.1 L960.5 798.9 L961.0 800.1 L961.0 800.0 L961.5 798.4 L962.0 796.3 L962.5 793.7 L963.0 790.7 L963.4 788.2 L963.5 785.7 L964.0 773.0 L964.5 757.5 L965.0 740.7 L965.4 728.1 L965.5 723.6 L966.0 703.8 L966.5 683.1 L967.0 662.8 L967.4 648.1 L967.5 644.3 L968.0 629.1 L968.5 614.5 L969.0 599.7 L969.4 588.0 L969.5 583.8 L970.0 564.9 L970.2 556.3 L970.5 550.2 L971.0 539.4 L971.2 536.3 L971.5 533.5 L972.0 529.8 L972.5 527.3 L972.5 527.4 L973.0 531.8 L973.5 538.3 L973.5 539.1 L974.0 553.7 L974.3 565.8 L974.5 576.9 L975.0 607.2 L975.0 608.0 L975.5 619.2 L976.0 628.9 L976.5 637.9 L977.0 647.6 L977.0 648.0 L977.5 659.8 L978.0 672.5 L978.5 685.3 L979.0 697.6 L979.0 698.1 L979.5 708.3 L980.0 718.8 L980.5 728.7 L981.0 737.8 L981.0 738.1 L981.5 743.5 L982.0 748.7 L982.5 753.5 L983.0 758.0 L983.0 758.1 L983.5 761.4 L984.0 764.7 L984.5 767.9 L985.0 770.6 L985.5 772.6 L985.6 773.0 L986.0 770.7 L986.5 766.3 L987.0 760.9 L987.5 754.9 L988.0 748.8 L988.0 748.5 L988.5 740.0 L989.0 730.0 L989.5 719.6 L990.0 709.3 L990.0 708.7 L990.5 699.1 L991.0 688.6 L991.5 678.5 L992.0 669.4 L992.0 668.9 L992.5 663.5 L993.0 658.2 L993.5 653.3 L994.0 649.3 L994.0 649.1 L994.5 647.7 L995.0 646.4 L995.5 645.3 L996.0 644.4 L996.0 644.3 L996.5 644.0 L997.0 643.7 L997.5 643.5 L998.0 643.3 L998.5 643.0 L999.0 642.7 L999.0 642.6 L999.5 641.0 L1000.0 638.7 L1000.5 636.2 L1001.0 634.0 L1001.0 633.9 L1001.5 632.6 L1002.0 631.3 L1002.5 630.1 L1003.0 629.3 L1003.0 629.3 L1003.5 630.9 L1004.0 633.4 L1004.5 636.5 L1005.0 639.9 L1005.0 640.3 L1005.5 649.4 L1006.0 661.8 L1006.5 675.5 L1007.0 689.2 L1007.0 690.5 L1007.5 704.1 L1008.0 720.0 L1008.5 735.5 L1009.0 749.5 L1009.0 750.7 L1009.5 758.5 L1010.0 766.6 L1010.5 773.9 L1011.0 780.3 L1011.0 780.9 L1011.5 784.0 L1012.0 787.2 L1012.5 790.2 L1013.0 792.9 L1013.5 795.2 L1014.0 796.9 L1014.1 797.1 L1014.5 796.2 L1015.0 794.9 L1015.5 793.3 L1016.0 791.6 L1016.5 789.7 L1017.0 788.0 L1017.1 787.8 L1017.5 785.8 L1018.0 783.3 L1018.5 780.7 L1019.0 778.2 L1019.5 776.1 L1020.0 774.6 L1020.1 774.4 L1020.5 775.4 L1021.0 776.8 L1021.5 778.5 L1022.0 780.4 L1022.5 782.4 L1023.0 784.3 L1023.1 784.6 L1023.5 786.5 L1024.0 788.9 L1024.5 791.3 L1025.0 793.8 L1025.5 796.2 L1026.0 798.6 L1026.1 798.9 L1026.5 800.6 L1027.0 802.7 L1027.5 804.9 L1028.0 806.9 L1028.5 808.8 L1029.0 810.4 L1029.5 811.7 L1029.7 812.1 L1030.0 811.0 L1030.5 808.8 L1031.0 806.1 L1031.5 803.0 L1032.0 799.7 L1032.1 799.2 L1032.5 794.5 L1033.0 788.1 L1033.5 781.2 L1034.0 774.3 L1034.1 773.2 L1034.5 766.8 L1035.0 758.8 L1035.5 751.1 L1036.0 744.2 L1036.1 743.2 L1036.5 739.9 L1037.0 736.2 L1037.5 733.0 L1038.0 730.7 L1038.1 730.4 L1038.5 732.1 L1039.0 735.1 L1039.5 738.6 L1040.0 742.5 L1040.1 743.2 L1040.5 749.9 L1041.0 759.5 L1041.5 769.4 L1042.0 778.0 L1042.1 779.3 L1042.5 782.7 L1043.0 786.7 L1043.5 790.4 L1044.0 793.8 L1044.5 796.6 L1045.0 798.8 L1045.1 799.1 L1045.5 797.8 L1046.0 795.9 L1046.5 793.5 L1047.0 790.7 L1047.5 787.6 L1048.0 784.2 L1048.1 783.5 L1048.5 775.6 L1049.0 763.7 L1049.5 750.3 L1050.0 736.3 L1050.1 733.8 L1050.5 718.5 L1051.0 698.1 L1051.5 677.3 L1052.0 657.4 L1052.1 653.7 L1052.5 641.2 L1053.0 626.5 L1053.5 612.0 L1054.0 597.0 L1054.1 593.8 L1054.5 580.5 L1055.0 562.0 L1055.0 560.6 L1055.5 521.5 L1056.0 474.0 L1056.3 446.8 L1056.5 436.3 L1057.0 408.1 L1057.5 383.6 L1057.7 375.5 L1058.0 369.6 L1058.5 360.4 L1059.0 352.6 L1059.5 346.8 L1059.6 345.7 L1060.0 349.2 L1060.5 355.7 L1061.0 363.9 L1061.5 373.1 L1061.7 376.1 L1062.0 390.5 L1062.5 415.3 L1063.0 442.8 L1063.1 447.9 L1063.5 480.1 L1064.0 523.1 L1064.4 562.5 L1064.5 568.5 L1065.0 623.2 L1065.5 676.5 L1065.7 695.4 L1066.0 709.6 L1066.5 730.9 L1067.0 751.1 L1067.1 755.7 L1067.5 771.4 L1068.0 791.3 L1068.5 811.2 L1069.0 831.4 L1069.1 836.0 L1069.4 847.6 L1069.5 852.5 L1069.7 857.8 L1070.0 866.2 L1070.0 866.8 L1070.5 862.8 L1070.9 858.0 L1071.0 856.7 L1071.5 848.6 L1071.5 848.0 L1072.0 839.0 L1072.1 836.5 L1072.5 825.7 L1073.0 810.1 L1073.5 794.3 L1074.0 779.8 L1074.1 776.8 L1074.5 770.3 L1075.0 762.3 L1075.5 754.9 L1076.0 748.5 L1076.1 747.1 L1076.5 744.5 L1077.0 741.8 L1077.1 741.4 L1077.5 743.3 L1078.0 746.9 L1078.5 751.3 L1079.0 756.2 L1079.1 757.4 L1079.5 765.5 L1080.0 778.7 L1080.5 792.6 L1081.0 805.0 L1081.1 807.7 L1081.5 812.1 L1082.0 817.8 L1082.5 823.0 L1083.0 827.9 L1083.5 832.5 L1084.0 836.8 L1084.1 837.9 L1084.5 840.2 L1085.0 843.2 L1085.5 846.1 L1086.0 849.0 L1086.5 851.7 L1087.0 854.1 L1087.5 856.1 L1088.0 857.8 L1088.1 858.1 L1088.5 857.8 L1089.0 857.1 L1089.5 856.3 L1090.0 855.5 L1090.5 854.5 L1091.0 853.4 L1091.5 852.2 L1092.0 851.0 L1092.1 850.7 L1092.5 848.7 L1093.0 845.7 L1093.5 842.4 L1094.0 838.7 L1094.5 834.7 L1095.0 830.2 L1095.1 828.9 L1095.5 821.6 L1096.0 809.4 L1096.5 796.0 L1097.0 782.7 L1097.1 779.1 L1097.5 770.0 L1098.0 757.0 L1098.5 744.3 L1099.0 732.4 L1099.1 729.3 L1099.5 723.2 L1100.0 715.2 L1100.5 707.7 L1101.0 701.1 L1101.2 699.3 L1101.5 697.1 L1102.0 694.3 L1102.5 691.8 L1103.0 689.5 L1103.5 687.0 L1104.0 684.4 L1104.2 683.6 L1104.5 681.1 L1105.0 677.5 L1105.5 673.8 L1106.0 670.0 L1106.5 665.8 L1107.0 661.3 L1107.2 659.8 L1107.5 653.8 L1108.0 643.9 L1108.5 633.4 L1109.0 623.0 L1109.2 619.9 L1109.5 613.7 L1110.0 604.3 L1110.5 595.4 L1111.0 588.0 L1111.2 586.1 L1111.5 584.7 L1112.0 582.9 L1112.5 581.3 L1113.0 580.0 L1113.5 578.9 L1113.8 578.5 L1114.0 579.1 L1114.5 580.6 L1115.0 582.6 L1115.5 584.9 L1116.0 587.1 L1116.2 587.8 L1116.5 589.5 L1117.0 592.1 L1117.5 594.8 L1118.0 597.5 L1118.5 600.1 L1119.0 602.4 L1119.2 603.1 L1119.5 604.0 L1120.0 605.1 L1120.5 606.2 L1121.0 607.1 L1121.5 608.1 L1122.0 609.1 L1122.5 610.3 L1123.0 611.7 L1123.2 612.2 L1123.5 615.4 L1124.0 621.2 L1124.5 627.8 L1125.0 634.8 L1125.2 637.3 L1125.5 644.4 L1126.0 656.3 L1126.5 669.0 L1127.0 681.7 L1127.2 685.9 L1127.5 693.9 L1128.0 705.9 L1128.5 717.9 L1129.0 730.3 L1129.2 734.8 L1129.5 743.9 L1130.0 758.5 L1130.5 773.4 L1131.0 788.2 L1131.2 793.5 L1131.5 802.8 L1132.0 817.1 L1132.5 831.5 L1133.0 846.5 L1133.2 852.2 L1133.5 864.5 L1133.5 866.4 L1134.0 878.8 L1134.0 879.9 L1134.5 889.3 L1134.5 889.4 L1135.0 886.5 L1135.5 882.3 L1136.0 877.5 L1136.5 872.8 L1136.5 872.4 L1137.0 865.8 L1137.5 858.7 L1137.9 853.1 L1138.0 851.2 L1138.5 843.1 L1139.0 834.3 L1139.2 830.6 L1139.5 820.7 L1140.0 803.8 L1140.0 802.9 L1140.5 793.0 L1140.9 785.5 L1141.0 784.9 L1141.5 781.1 L1142.0 778.2 L1142.2 777.4 L1142.5 778.7 L1143.0 781.8 L1143.5 785.2 L1143.5 785.9 L1144.0 795.0 L1144.3 802.4 L1144.5 806.9 L1145.0 823.9 L1145.2 829.9 L1145.5 836.5 L1146.0 846.4 L1146.5 855.7 L1146.8 862.1 L1147.0 864.6 L1147.5 872.9 L1148.0 880.9 L1148.5 888.4 L1148.6 890.2 L1149.0 894.2 L1149.5 899.7 L1150.0 904.9 L1150.5 909.4 L1151.0 912.8 L1151.1 913.5 L1151.5 911.8 L1152.0 908.6 L1152.5 904.8 L1153.0 900.4 L1153.5 895.9 L1154.0 891.3 L1154.1 890.4 L1154.5 885.7 L1155.0 879.3 L1155.5 872.5 L1156.0 865.6 L1156.2 862.6 L1156.5 858.3 L1157.0 850.8 L1157.5 843.0 L1158.0 834.3 L1158.2 830.3 L1158.5 820.6 L1159.0 801.6 L1159.5 780.9 L1160.0 759.5 L1160.2 750.5 L1160.5 736.8 L1161.0 712.5 L1161.5 687.5 L1162.0 661.8 L1162.2 650.8 L1162.5 633.9 L1163.0 604.1 L1163.5 573.1 L1163.7 557.8 L1164.0 538.2 L1164.5 498.1 L1165.0 457.3 L1165.5 418.8 L1165.7 404.7 L1166.0 389.2 L1166.5 363.9 L1167.0 340.3 L1167.5 319.3 L1167.8 308.5 L1168.0 304.9 L1168.5 296.5 L1169.0 288.5 L1169.5 281.4 L1170.0 275.3 L1170.5 270.5 L1170.8 268.6 L1171.0 270.6 L1171.5 275.6 L1172.0 281.8 L1172.5 289.1 L1173.0 297.1 L1173.5 305.7 L1173.7 309.1 L1174.0 320.4 L1174.5 341.6 L1175.0 365.3 L1175.5 390.8 L1175.8 405.9 L1176.0 420.7 L1176.5 459.2 L1177.0 500.0 L1177.5 540.3 L1177.8 559.4 L1178.0 575.9 L1178.5 608.1 L1179.0 639.2 L1179.2 653.1 L1179.5 667.1 L1180.0 691.6 L1180.5 715.6 L1181.0 740.9 L1181.2 753.3 L1181.5 772.7 L1182.0 811.7 L1182.5 849.2 L1182.6 853.3 L1183.0 876.2 L1183.5 900.8 L1184.0 924.3 L1184.5 947.1 L1184.9 963.4 L1185.0 969.2 L1185.5 989.7 L1186.0 1009.9 L1186.5 1029.5 L1187.0 1048.0 L1187.3 1059.2 L1187.5 1063.9 L1188.0 1077.2 L1188.5 1090.5 L1189.0 1103.4 L1189.5 1115.2 L1190.0 1125.5 L1190.5 1133.8 L1190.8 1137.2 L1191.0 1133.1 L1191.5 1121.1 L1192.0 1105.7 L1192.5 1088.3 L1193.0 1070.2 L1193.3 1059.8 L1193.5 1049.9 L1194.0 1024.5 L1194.5 997.4 L1195.0 969.5 L1195.1 964.5 L1195.5 938.6 L1196.0 906.0 L1196.5 872.8 L1196.8 855.0 L1197.0 839.6 L1197.5 805.9 L1198.0 772.0 L1198.2 755.0 L1198.5 737.4 L1199.0 701.1 L1199.5 665.0 L1200.0 630.9 L1200.2 615.2 L1200.5 603.7 L1200.8 590.9 L1201.0 585.4 L1201.4 575.5 L1201.5 574.6 L1202.0 570.0 L1202.2 568.5 L1202.5 570.0 L1203.0 574.6 L1203.1 575.5 L1203.5 585.4 L1203.7 590.8 L1204.0 603.6 L1204.2 615.1 L1204.5 630.5 L1205.0 663.3 L1205.5 698.4 L1206.0 735.6 L1206.3 755.8 L1206.5 780.8 L1207.0 836.4 L1207.2 854.8 L1207.5 878.8 L1208.0 913.3 L1208.0 915.3 L1208.5 943.6 L1208.9 967.2 L1209.0 970.0 L1209.5 989.7 L1210.0 1005.8 L1210.2 1009.7 L1210.5 1004.6 L1211.0 992.6 L1211.5 978.0 L1211.9 967.0 L1212.0 962.0 L1212.5 940.8 L1213.0 918.2 L1213.1 915.0 L1213.5 893.2 L1214.0 866.4 L1214.2 855.2 L1214.5 828.0 L1215.0 779.6 L1215.3 755.0 L1215.5 738.5 L1216.0 703.5 L1216.5 669.8 L1217.0 637.1 L1217.5 605.2 L1218.0 574.1 L1218.2 561.8 L1218.5 545.4 L1219.0 519.1 L1219.3 503.9 L1219.5 497.7 L1220.0 481.4 L1220.5 467.9 L1220.5 467.5 L1221.0 461.9 L1221.5 456.8 L1222.0 452.9 L1222.2 451.8 L1222.5 453.4 L1223.0 457.4 L1223.5 462.6 L1223.9 466.9 L1224.0 469.7 L1224.5 483.8 L1225.0 500.2 L1225.1 503.0 L1225.5 524.5 L1226.0 551.6 L1226.2 560.5 L1226.5 566.9 L1227.0 576.0 L1227.5 583.8 L1228.0 591.2 L1228.5 598.8 L1229.0 607.4 L1229.3 612.9 L1229.5 620.4 L1230.0 639.9 L1230.5 661.0 L1231.0 681.7 L1231.3 692.3 L1231.5 698.7 L1231.7 703.4 L1232.0 711.2 L1232.1 713.3 L1232.5 719.7 L1232.7 721.5 L1233.0 718.4 L1233.5 711.1 L1233.8 706.7 L1234.0 702.2 L1234.5 691.0 L1234.6 689.6 L1235.0 677.9 L1235.3 670.1 L1235.5 664.4 L1236.0 651.0 L1236.5 637.6 L1237.0 624.2 L1237.5 610.5 L1238.0 596.6 L1238.3 588.3 L1238.5 581.3 L1239.0 564.4 L1239.1 561.1 L1239.5 552.7 L1240.0 543.8 L1240.0 543.7 L1240.5 539.6 L1241.0 536.4 L1241.2 535.4 L1241.5 536.5 L1242.0 539.5 L1242.5 543.2 L1242.5 543.3 L1243.0 551.5 L1243.4 560.2 L1243.5 562.1 L1244.0 578.1 L1244.3 587.2 L1244.5 591.1 L1245.0 600.1 L1245.5 608.3 L1246.0 616.1 L1246.5 624.0 L1247.0 632.4 L1247.3 637.8 L1247.5 642.5 L1248.0 654.9 L1248.5 668.0 L1249.0 680.8 L1249.3 688.2 L1249.5 692.5 L1250.0 703.3 L1250.5 713.9 L1251.0 723.5 L1251.3 728.6 L1251.5 730.5 L1252.0 735.3 L1252.5 739.8 L1253.0 744.0 L1253.5 747.7 L1254.0 750.6 L1254.3 752.0 L1254.5 751.6 L1255.0 750.1 L1255.5 748.3 L1256.0 746.1 L1256.5 743.7 L1257.0 741.2 L1257.3 739.6 L1257.5 738.0 L1258.0 733.1 L1258.5 727.6 L1259.0 722.6 L1259.3 719.9 L1259.5 719.0 L1260.0 716.8 L1260.5 714.7 L1261.0 713.1 L1261.3 712.4 L1261.5 714.5 L1262.0 722.6 L1262.5 733.1 L1263.0 744.1 L1263.3 750.7 L1263.5 754.3 L1264.0 765.1 L1264.5 776.0 L1265.0 785.8 L1265.3 791.0 L1265.5 792.4 L1266.0 796.2 L1266.5 799.2 L1266.7 800.1 L1267.0 798.3 L1267.5 794.1 L1268.0 788.7 L1268.5 782.6 L1269.0 776.0 L1269.3 771.6 L1269.5 767.2 L1270.0 752.9 L1270.5 736.9 L1271.0 721.0 L1271.3 711.9 L1271.5 708.0 L1272.0 697.7 L1272.5 688.0 L1273.0 678.4 L1273.3 671.9 L1273.5 668.3 L1273.7 664.0 L1274.0 660.5 L1274.1 659.1 L1274.5 657.1 L1274.7 656.3 L1275.0 658.0 L1275.4 661.8 L1275.5 663.8 L1275.9 673.4 L1276.0 678.1 L1276.3 692.0 L1276.5 697.5 L1277.0 712.9 L1277.5 727.6 L1278.0 742.0 L1278.3 751.7 L1278.5 756.7 L1279.0 770.4 L1279.5 784.2 L1280.0 799.6 L1280.3 811.5 L1280.5 823.8 L1280.6 830.5 L1280.9 847.4 L1281.0 852.9 L1281.3 861.6 L1281.5 859.9 L1282.0 854.5 L1282.5 848.0 L1282.5 847.3 L1283.0 839.5 L1283.5 830.4 L1283.5 830.0 L1284.0 819.3 L1284.3 811.1 L1284.5 804.7 L1285.0 783.4 L1285.5 759.6 L1286.0 732.1 L1286.3 710.8 L1286.5 688.3 L1287.0 600.4 L1287.3 557.3 L1287.5 535.9 L1288.0 493.9 L1288.5 456.2 L1288.7 444.1 L1289.0 426.5 L1289.5 401.1 L1290.0 379.1 L1290.2 372.8 L1290.5 366.8 L1291.0 358.2 L1291.5 350.8 L1292.0 345.0 L1292.3 342.7 L1292.5 344.6 L1293.0 350.3 L1293.5 357.6 L1294.0 366.1 L1294.4 373.1 L1294.5 377.6 L1295.0 399.1 L1295.5 424.4 L1295.9 444.8 L1296.0 453.5 L1296.5 494.1 L1297.0 536.3 L1297.3 558.1 L1297.5 571.1 L1298.0 599.1 L1298.5 625.7 L1299.0 652.3 L1299.3 671.5 L1299.5 680.3 L1300.0 710.0 L1300.5 740.1 L1301.0 770.5 L1301.4 792.5 L1301.5 801.5 L1302.0 834.3 L1302.3 852.0 L1302.5 863.9 L1303.0 889.9 L1303.3 904.3 L1303.5 913.7 L1304.0 935.3 L1304.4 949.9 L1304.5 953.6 L1305.0 968.1 L1305.5 980.8 L1305.9 987.5 L1306.0 987.0 L1306.5 983.8 L1307.0 979.4 L1307.5 974.6 L1307.7 972.3 L1308.0 969.0 L1308.5 962.2 L1309.0 955.1 L1309.1 954.2 L1309.5 947.0 L1310.0 938.4 L1310.3 933.5 L1310.5 929.8 L1311.0 920.6 L1311.5 911.4 L1312.0 903.0 L1312.3 898.6 L1312.5 896.8 L1313.0 892.5 L1313.5 888.6 L1314.0 885.3 L1314.3 883.7 L1314.5 883.5 L1315.0 882.9 L1315.5 882.4 L1316.0 882.0 L1316.5 881.6 L1317.0 881.2 L1317.3 881.0 L1317.5 880.9 L1318.0 880.6 L1318.5 880.4 L1319.0 880.2 L1319.5 879.9 L1320.0 879.5 L1320.3 879.3 L1320.5 877.5 L1321.0 871.1 L1321.3 866.4 L1321.5 860.7 L1322.0 843.4 L1322.1 839.5 L1322.5 815.7 L1323.0 781.9 L1323.4 754.6 L1323.5 743.6 L1324.0 694.4 L1324.5 642.2 L1325.0 591.0 L1325.3 561.4 L1325.5 546.6 L1326.0 509.0 L1326.4 479.8 L1326.5 476.4 L1327.0 452.9 L1327.5 432.7 L1327.6 428.4 L1328.0 422.4 L1328.5 415.0 L1329.0 409.3 L1329.3 406.8 L1329.5 407.9 L1330.0 412.0 L1330.5 417.4 L1331.0 423.6 L1331.4 429.1 L1331.5 431.5 L1332.0 446.9 L1332.5 465.0 L1332.9 481.4 L1333.0 485.6 L1333.5 516.0 L1334.0 547.1 L1334.3 563.5 L1334.5 567.8 L1335.0 577.9 L1335.5 586.9 L1336.0 596.7 L1336.0 597.2 L1336.5 610.8 L1337.0 626.1 L1337.5 641.7 L1338.0 657.2 L1338.0 657.8 L1338.5 672.6 L1339.0 688.2 L1339.5 703.5 L1340.0 717.9 L1340.0 718.4 L1340.5 728.9 L1341.0 739.2 L1341.5 749.2 L1342.0 759.0 L1342.5 768.9 L1343.0 778.9 L1343.0 779.3 L1343.5 789.6 L1344.0 800.9 L1344.5 812.7 L1345.0 824.8 L1345.5 836.9 L1346.0 848.9 L1346.5 860.6 L1347.0 871.7 L1347.5 882.1 L1348.0 891.6 L1348.5 899.9 L1349.0 907.0 L1349.3 910.8 L1349.5 910.7 L1350.0 910.0 L1350.5 909.2 L1351.0 908.2 L1351.5 907.2 L1352.0 906.2 L1352.3 905.6 L1352.5 905.3 L1353.0 904.3 L1353.5 903.4 L1354.0 902.4 L1354.5 901.4 L1355.0 900.5 L1355.5 899.5 L1356.0 898.6 L1356.3 898.0 L1356.5 897.8 L1357.0 897.1 L1357.5 896.4 L1358.0 895.8 L1358.5 895.2 L1359.0 894.6 L1359.5 894.0 L1360.0 893.3 L1360.5 892.6 L1361.0 891.8 L1361.3 891.2 L1361.5 890.8 L1362.0 889.0 L1362.5 887.2 L1363.0 885.1 L1363.5 882.9 L1364.0 880.5 L1364.3 878.8 L1364.5 877.5 L1365.0 873.0 L1365.5 868.0 L1366.0 862.5 L1366.3 858.5 L1366.5 855.8 L1367.0 845.8 L1367.5 834.8 L1368.0 823.2 L1368.5 811.3 L1369.0 799.7 L1369.5 788.8 L1370.0 779.1 L1370.0 778.2 L1370.5 773.0 L1371.0 767.6 L1371.5 762.5 L1372.0 757.6 L1372.5 752.8 L1373.0 748.2 L1373.1 747.7 L1373.5 744.5 L1374.0 741.3 L1374.5 738.1 L1375.0 734.9 L1375.5 731.5 L1376.0 727.7 L1376.1 727.2 L1376.5 721.3 L1377.0 713.6 L1377.5 705.6 L1378.0 697.8 L1378.1 696.9 L1378.5 690.9 L1379.0 684.4 L1379.5 677.9 L1380.0 671.3 L1380.5 664.5 L1381.0 657.4 L1381.1 656.5 L1381.5 647.9 L1382.0 637.3 L1382.5 626.7 L1383.0 617.2 L1383.1 616.0 L1383.5 611.1 L1384.0 605.7 L1384.5 600.7 L1385.0 596.3 L1385.1 595.8 L1385.5 593.7 L1386.0 591.4 L1386.5 589.4 L1387.0 587.7 L1387.1 587.5 L1387.5 586.8 L1388.0 586.1 L1388.5 585.4 L1389.0 584.9 L1389.5 584.4 L1389.7 584.3 L1390.0 584.9 L1390.5 586.3 L1391.0 587.9 L1391.5 589.8 L1392.0 591.7 L1392.5 593.5 L1393.0 595.2 L1393.1 595.5 L1393.5 596.6 L1394.0 597.9 L1394.5 599.1 L1395.0 600.3 L1395.5 601.5 L1396.0 602.8 L1396.5 604.2 L1397.0 605.7 L1397.1 606.0 L1397.5 608.4 L1398.0 611.6 L1398.5 615.0 L1399.0 618.6 L1399.5 622.2 L1400.0 625.8 L1400.1 626.3 L1400.5 629.1 L1401.0 632.5 L1401.5 635.8 L1402.0 639.2 L1402.5 642.6 L1403.0 646.1 L1403.1 646.7 L1403.5 650.2 L1404.0 654.6 L1404.5 659.1 L1405.0 663.6 L1405.5 668.1 L1406.0 672.4 L1406.1 673.1 L1406.5 676.0 L1407.0 679.4 L1407.5 682.7 L1408.0 686.0 L1408.5 689.4 L1409.0 692.8 L1409.1 693.5 L1409.5 696.7 L1410.0 701.0 L1410.5 705.3 L1411.0 709.6 L1411.5 713.6 L1412.0 717.2 L1412.1 717.9 L1412.5 719.5 L1413.0 721.4 L1413.5 723.2 L1414.0 724.9 L1414.5 726.5 L1415.0 727.9 L1415.1 728.2 L1415.5 728.9 L1416.0 729.7 L1416.5 730.4 L1417.0 731.1 L1417.5 731.8 L1418.0 732.4 L1418.1 732.6 L1418.5 733.0 L1419.0 733.6 L1419.5 734.1 L1420.0 734.6 L1420.5 735.2 L1421.0 735.7 L1421.5 736.3 L1422.0 736.9 L1422.1 737.1 L1422.5 738.0 L1423.0 739.2 L1423.5 740.6 L1424.0 742.1 L1424.5 743.6 L1425.0 745.1 L1425.1 745.4 L1425.5 746.9 L1426.0 749.0 L1426.5 751.1 L1427.0 753.2 L1427.5 755.3 L1428.0 757.4 L1428.1 757.8 L1428.5 759.1 L1429.0 760.6 L1429.5 762.2 L1430.0 763.7 L1430.1 764.0 L1430.5 765.1 L1431.0 766.6 L1431.5 767.9 L1432.0 768.9 L1432.1 769.1 L1432.5 768.8 L1433.0 768.3 L1433.5 767.7 L1434.0 767.0 L1434.5 766.2 L1435.0 765.3 L1435.1 765.1 L1435.5 763.5 L1436.0 761.0 L1436.5 758.3 L1437.0 756.1 L1437.1 755.6 L1437.5 755.0 L1438.0 754.1 L1438.5 753.4 L1439.0 752.8 L1439.5 752.5 L1439.5 752.4 L1440.0 753.3 L1440.5 754.6 L1441.0 756.1 L1441.5 757.6 L1442.0 758.9 L1442.1 759.3 L1442.5 759.9 L1443.0 760.9 L1443.5 761.7 L1444.0 762.5 L1444.5 763.0 L1444.5 763.1 L1445.0 762.6 L1445.5 761.9 L1446.0 761.1 L1446.5 760.1 L1447.0 759.0 L1447.1 758.7 L1447.5 756.5 L1448.0 752.7 L1448.5 748.5 L1449.0 744.2 L1449.1 743.1 L1449.5 739.4 L1450.0 734.0 L1450.5 728.8 L1451.0 724.4 L1451.1 723.4 L1451.5 722.3 L1452.0 721.0 L1452.5 719.9 L1453.0 719.0 L1453.1 718.7 L1453.5 718.3 L1454.0 717.9 L1454.5 717.4 L1455.0 717.0 L1455.5 716.7 L1456.0 716.5 L1456.1 716.4 L1456.5 716.6 L1457.0 716.9 L1457.5 717.3 L1458.0 717.8 L1458.5 718.3 L1459.0 718.8 L1459.5 719.3 L1460.0 719.7 L1460.2 719.8 L1460.5 720.1 L1461.0 720.4 L1461.5 720.8 L1462.0 721.2 L1462.5 721.5 L1463.0 721.8 L1463.5 722.1 L1464.0 722.4 L1464.2 722.5 L1464.5 722.5 L1465.0 722.6 L1465.5 722.7 L1466.0 722.8 L1466.5 722.8 L1467.0 722.9 L1467.5 723.0 L1468.0 723.1 L1468.2 723.1 L1468.5 723.4 L1469.0 724.0 L1469.5 724.6 L1470.0 725.3 L1470.5 726.1 L1471.0 726.9 L1471.5 727.7 L1472.0 728.5 L1472.2 728.7 L1472.5 729.5 L1473.0 730.6 L1473.5 731.8 L1474.0 733.1 L1474.5 734.3 L1475.0 735.6 L1475.5 736.8 L1476.0 738.0 L1476.2 738.4 L1476.5 739.1 L1477.0 740.1 L1477.5 741.1 L1478.0 742.0 L1478.5 743.0 L1479.0 743.9 L1479.5 744.8 L1480.0 745.7 L1480.2 746.0 L1480.5 746.5 L1481.0 747.2 L1481.5 747.9 L1482.0 748.6 L1482.5 749.3 L1483.0 749.9 L1483.5 750.7 L1484.0 751.4 L1484.2 751.7 L1484.5 752.4 L1485.0 753.5 L1485.5 754.6 L1486.0 755.8 L1486.5 757.0 L1487.0 758.2 L1487.5 759.5 L1488.0 760.9 L1488.2 761.3 L1488.5 762.5 L1489.0 764.3 L1489.5 766.3 L1490.0 768.3 L1490.5 770.3 L1491.0 772.3 L1491.2 773.1 L1491.5 774.5 L1492.0 776.8 L1492.5 779.2 L1493.0 781.6 L1493.5 783.9 L1494.0 786.1 L1494.2 786.8 L1494.5 787.8 L1495.0 789.5 L1495.5 791.0 L1496.0 792.5 L1496.5 793.9 L1497.0 795.1 L1497.2 795.5 L1497.5 795.9 L1498.0 796.4 L1498.5 796.9 L1499.0 797.3 L1499.5 797.7 L1500.0 798.0 L1500.2 798.1 L1500.5 797.9 L1501.0 797.4 L1501.5 796.8 L1502.0 796.1 L1502.5 795.4 L1503.0 794.6 L1503.2 794.3 L1503.5 793.2 L1504.0 791.2 L1504.5 788.9 L1505.0 786.4 L1505.5 783.8 L1506.0 781.3 L1506.2 780.3 L1506.5 778.4 L1507.0 775.2 L1507.5 771.9 L1508.0 768.5 L1508.5 765.1 L1509.0 761.6 L1509.2 760.2 L1509.5 757.8 L1510.0 753.7 L1510.5 749.5 L1511.0 745.6 L1511.2 744.2 L1511.5 742.8 L1512.0 740.5 L1512.5 738.3 L1513.0 736.7 L1513.2 736.2 L1513.5 736.2 L1514.0 736.2 L1514.5 736.2 L1515.0 736.2 L1515.5 736.2 L1516.0 736.2 L1516.2 736.3 L1516.5 736.6 L1517.0 737.5 L1517.5 738.4 L1518.0 739.2 L1518.2 739.4 L1518.5 739.0 L1519.0 738.0 L1519.5 736.7 L1520.0 735.5 L1520.2 735.0 L1520.5 734.4 L1521.0 733.6 L1521.5 732.7 L1522.0 731.9 L1522.5 731.0 L1523.0 730.0 L1523.2 729.5 L1523.5 728.4 L1524.0 726.0 L1524.5 723.6 L1525.0 721.6 L1525.2 721.1 L1525.5 721.4 L1526.0 722.3 L1526.5 723.2 L1527.0 724.0 L1527.2 724.2 L1527.5 724.3 L1528.0 724.4 L1528.5 724.5 L1529.0 724.5 L1529.2 724.6 L1529.5 722.7 L1530.0 718.0 L1530.5 712.1 L1531.0 705.7 L1531.2 702.9 L1531.5 697.9 L1532.0 688.0 L1532.5 677.6 L1533.0 667.4 L1533.2 663.2 L1533.5 658.8 L1534.0 650.9 L1534.5 643.4 L1535.0 636.4 L1535.2 633.6 L1535.5 631.0 L1536.0 626.7 L1536.5 622.7 L1537.0 619.2 L1537.2 617.8 L1537.5 617.1 L1538.0 615.8 L1538.5 614.7 L1538.8 614.3 L1539.0 615.1 L1539.5 618.3 L1540.0 622.5 L1540.2 624.5 L1540.5 629.0 L1541.0 638.9 L1541.5 649.8 L1542.0 660.5 L1542.2 665.1 L1542.5 669.5 L1543.0 677.6 L1543.5 685.3 L1544.0 692.6 L1544.2 695.6 L1544.5 698.2 L1545.0 703.0 L1545.5 707.4 L1546.0 710.9 L1546.2 712.1 L1546.5 711.4 L1547.0 709.7 L1547.5 707.5 L1548.0 705.0 L1548.5 702.5 L1549.0 700.2 L1549.2 699.3 L1549.5 698.6 L1550.0 697.2 L1550.5 695.9 L1551.0 694.7 L1551.5 693.7 L1551.8 693.3 L1552.0 693.6 L1552.5 695.0 L1553.0 696.7 L1553.5 698.5 L1554.0 700.3 L1554.2 701.1 L1554.5 701.7 L1555.0 703.1 L1555.5 704.4 L1556.0 705.6 L1556.5 706.8 L1557.0 707.7 L1557.2 708.0 L1557.5 707.4 L1558.0 705.8 L1558.5 703.8 L1559.0 701.6 L1559.5 699.3 L1560.0 697.2 L1560.2 696.2 L1560.5 695.3 L1561.0 693.3 L1561.5 691.4 L1562.0 689.6 L1562.5 688.1 L1562.8 687.4 L1563.0 687.9 L1563.5 690.0 L1564.0 692.7 L1564.5 695.8 L1565.0 699.2 L1565.3 701.0 L1565.5 704.1 L1566.0 711.5 L1566.5 719.6 L1567.0 727.7 L1567.3 731.7 L1567.5 735.0 L1568.0 742.1 L1568.5 749.0 L1569.0 755.4 L1569.3 758.3 L1569.5 760.1 L1570.0 763.6 L1570.5 767.1 L1571.0 770.2 L1571.5 773.0 L1572.0 775.2 L1572.3 776.1 L1572.5 775.6 L1573.0 774.1 L1573.5 772.2 L1574.0 770.0 L1574.5 767.6 L1575.0 765.4 L1575.3 764.3 L1575.5 763.3 L1576.0 761.1 L1576.5 759.0 L1577.0 756.8 L1577.5 754.6 L1578.0 752.4 L1578.3 751.2 L1578.5 750.1 L1579.0 747.4 L1579.5 744.7 L1580.0 742.0 L1580.5 739.5 L1581.0 737.2 L1581.3 736.1 L1581.5 735.7 L1582.0 734.8 L1582.5 734.0 L1583.0 733.2 L1583.5 732.5 L1584.0 731.9 L1584.5 731.5 L1584.7 731.4 L1585.0 732.3 L1585.5 734.1 L1586.0 736.2 L1586.5 738.6 L1587.0 741.1 L1587.3 742.5 L1587.5 744.1 L1588.0 748.1 L1588.5 752.5 L1589.0 757.0 L1589.3 759.5 L1589.5 761.7 L1590.0 767.0 L1590.5 772.4 L1591.0 777.7 L1591.3 780.5 L1591.5 782.2 L1592.0 786.0 L1592.5 789.7 L1593.0 793.2 L1593.5 796.7 L1594.0 800.1 L1594.3 802.0 L1594.5 803.2 L1595.0 806.1 L1595.5 808.9 L1596.0 811.5 L1596.3 813.0 L1596.5 813.8 L1597.0 815.8 L1597.5 817.6 L1598.0 819.4 L1598.5 821.2 L1599.0 823.2 L1599.3 824.5 L1599.5 825.9 L1600.0 829.7 L1600.5 833.7 L1601.0 837.5 L1601.3 839.4 L1601.5 840.3 L1602.0 842.3 L1602.5 844.1 L1602.9 845.0 L1603.0 844.9 L1603.5 843.6 L1604.0 841.8 L1604.5 839.8 L1605.0 837.5 L1605.3 836.1 L1605.5 834.5 L1606.0 829.9 L1606.5 824.7 L1607.0 819.3 L1607.3 816.0 L1607.5 813.2 L1608.0 805.9 L1608.5 798.2 L1609.0 790.4 L1609.3 785.8 L1609.5 782.8 L1610.0 775.0 L1610.5 767.3 L1611.0 759.9 L1611.3 755.7 L1611.5 753.5 L1612.0 748.2 L1612.5 743.2 L1613.0 738.4 L1613.3 735.4 L1613.5 733.8 L1614.0 729.4 L1614.5 725.2 L1615.0 721.4 L1615.3 719.3 L1615.5 718.6 L1616.0 716.8 L1616.5 715.2 L1617.0 713.9 L1617.3 713.5 L1617.5 713.8 L1618.0 715.0 L1618.5 716.3 L1619.0 717.5 L1619.3 718.1 L1619.5 718.0 L1620.0 717.4 L1620.5 716.6 L1621.0 715.8 L1621.3 715.2 L1621.5 714.8 L1622.0 713.5 L1622.5 712.3 L1623.0 710.9 L1623.5 709.4 L1624.0 707.8 L1624.3 706.6 L1624.5 705.4 L1625.0 701.3 L1625.5 696.9 L1626.0 692.3 L1626.3 689.5 L1626.5 688.1 L1627.0 684.0 L1627.5 679.9 L1628.0 676.3 L1628.3 674.5 L1628.5 674.1 L1629.0 673.1 L1629.5 672.4 L1629.7 672.2 L1630.0 673.1 L1630.5 675.2 L1631.0 677.9 L1631.1 678.3 L1631.5 684.6 L1632.0 693.6 L1632.5 702.8 L1632.7 705.6 L1633.0 710.2 L1633.5 717.2 L1634.0 724.0 L1634.5 730.4 L1635.0 736.4 L1635.3 740.1 L1635.5 741.2 L1636.0 744.6 L1636.5 747.8 L1637.0 750.4 L1637.3 751.6 L1637.5 751.5 L1638.0 751.1 L1638.5 750.5 L1639.0 749.8 L1639.5 749.0 L1640.0 748.1 L1640.0 748.1 L1640.5 745.8 L1641.0 743.0 L1641.5 740.1 L1642.0 737.8 L1642.0 737.8 L1642.5 737.0 L1643.0 736.3 L1643.5 735.6 L1644.0 735.1 L1644.4 734.8 L1644.5 735.0 L1645.0 736.9 L1645.5 739.5 L1646.0 742.5 L1646.0 742.7 L1646.5 749.2 L1647.0 757.4 L1647.4 763.1 L1647.5 765.1 L1648.0 771.9 L1648.5 778.7 L1649.0 785.5 L1649.4 790.4 L1649.5 792.3 L1650.0 799.3 L1650.5 806.4 L1651.0 813.1 L1651.4 817.7 L1651.5 818.9 L1652.0 823.5 L1652.5 828.0 L1653.0 832.0 L1653.5 835.2 L1653.8 836.5 L1654.0 835.5 L1654.5 832.4 L1655.0 828.4 L1655.5 823.8 L1656.0 819.2 L1656.0 818.8 L1656.5 813.1 L1657.0 806.5 L1657.5 799.6 L1658.0 792.8 L1658.0 792.2 L1658.5 786.0 L1659.0 779.2 L1659.5 772.5 L1660.0 766.1 L1660.0 765.5 L1660.5 760.7 L1661.0 755.3 L1661.5 750.3 L1662.0 746.0 L1662.0 745.6 L1662.5 743.6 L1663.0 741.6 L1663.5 739.8 L1664.0 738.2 L1664.5 737.0 L1664.5 737.0 L1665.0 736.5 L1665.5 736.1 L1666.0 735.7 L1666.5 735.3 L1667.0 735.1 L1667.1 735.1 L1667.5 735.5 L1668.0 736.3 L1668.5 737.2 L1669.0 738.3 L1669.5 739.4 L1670.0 740.6 L1670.1 740.7 L1670.5 742.4 L1671.0 744.5 L1671.5 746.9 L1672.0 749.3 L1672.5 751.8 L1672.7 752.9 L1673.0 754.5 L1673.5 757.5 L1674.0 760.6 L1674.5 763.7 L1675.0 766.8 L1675.4 769.1 L1675.5 769.7 L1676.0 772.3 L1676.5 775.0 L1677.0 777.6 L1677.5 780.1 L1678.0 782.4 L1678.1 782.7 L1678.5 784.1 L1679.0 785.8 L1679.5 787.4 L1680.0 788.8 L1680.5 789.9 L1680.8 790.3 L1681.0 790.0 L1681.5 789.3 L1682.0 788.4 L1682.5 787.4 L1682.8 786.9 L1683.0 785.6 L1683.5 782.4 L1684.0 778.8 L1684.5 775.2 L1684.8 773.5 L1685.0 772.1 L1685.5 769.3 L1686.0 766.5 L1686.5 764.0 L1686.8 762.8 L1687.0 762.1 L1687.5 760.8 L1688.0 759.5 L1688.5 758.5 L1688.8 758.2 L1689.0 758.1 L1689.5 758.1 L1690.0 758.1 L1690.5 758.1 L1690.8 758.1 L1691.0 758.5 L1691.5 759.8 L1692.0 761.5 L1692.5 763.3 L1692.8 764.1 L1693.0 765.2 L1693.5 767.6 L1694.0 770.1 L1694.5 772.2 L1694.8 772.9 L1695.0 772.8 L1695.5 772.4 L1696.0 771.9 L1696.5 771.2 L1696.8 770.8 L1697.0 769.5 L1697.5 765.5 L1698.0 761.1 L1698.1 760.1 L1698.5 756.6 L1699.0 751.9 L1699.4 748.2 L1699.5 747.8 L1700.0 745.0 L1700.5 742.4 L1701.0 739.9 L1701.4 737.5 L1701.5 737.1 L1702.0 733.6 L1702.5 729.9 L1703.0 726.5 L1703.5 724.1 L1703.5 724.0 L1704.0 723.3 L1704.5 722.6 L1705.0 722.0 L1705.5 721.6 L1705.8 721.4 L1706.0 721.5 L1706.5 721.9 L1707.0 722.5 L1707.5 723.2 L1708.0 723.9 L1708.1 724.1 L1708.5 724.9 L1709.0 726.2 L1709.5 727.5 L1710.0 729.0 L1710.1 729.5 L1710.5 731.6 L1711.0 734.8 L1711.5 738.4 L1711.7 740.1 L1712.0 743.0 L1712.5 748.6 L1713.0 754.6 L1713.5 760.1 L1713.5 760.6 L1714.0 767.2 L1714.5 773.9 L1715.0 780.6 L1715.5 786.9 L1715.5 787.3 L1716.0 794.0 L1716.5 800.8 L1717.0 807.5 L1717.5 813.6 L1717.5 813.9 L1718.0 819.8 L1718.5 825.3 L1718.8 828.3 L1719.0 829.4 L1719.5 832.1 L1720.0 834.5 L1720.5 836.2 L1720.5 836.3 L1721.0 834.8 L1721.5 832.4 L1722.0 829.5 L1722.4 826.9 L1722.5 825.9 L1723.0 818.7 L1723.5 810.4 L1724.0 802.3 L1724.2 800.2 L1724.5 796.3 L1725.0 790.9 L1725.5 785.8 L1726.0 781.4 L1726.2 780.2 L1726.5 778.8 L1727.0 776.9 L1727.5 775.2 L1728.0 773.9 L1728.2 773.5 L1728.5 773.3 L1729.0 773.0 L1729.5 772.8 L1729.5 772.8 L1730.0 774.3 L1730.5 776.5 L1731.0 779.1 L1731.2 780.2 L1731.5 782.3 L1732.0 786.6 L1732.5 791.0 L1732.8 793.6 L1733.0 794.4 L1733.5 796.9 L1734.0 799.0 L1734.4 800.3 L1734.5 800.1 L1735.0 797.9 L1735.5 794.9 L1736.0 791.8 L1736.2 790.8 L1736.5 789.1 L1737.0 786.5 L1737.5 783.8 L1738.0 781.1 L1738.2 780.2 L1738.5 778.1 L1739.0 775.0 L1739.5 771.8 L1740.0 768.2 L1740.2 766.9 L1740.5 762.2 L1741.0 754.0 L1741.5 746.9 L1741.5 746.8 L1742.0 743.8 L1742.5 741.1 L1743.0 738.9 L1743.2 738.1 L1743.5 738.0 L1744.0 737.8 L1744.5 737.6 L1745.0 737.5 L1745.5 737.4 L1745.5 737.4 L1746.0 737.8 L1746.5 738.5 L1747.0 739.3 L1747.5 740.1 L1748.0 741.1 L1748.2 741.5 L1748.5 743.0 L1749.0 745.9 L1749.5 749.2 L1750.0 752.4 L1750.2 753.5 L1750.5 755.1 L1751.0 757.6 L1751.5 760.1 L1752.0 762.2 L1752.2 762.8 L1752.5 763.3 L1753.0 764.0 L1753.5 764.6 L1753.9 764.9 L1754.0 764.8 L1754.5 763.9 L1755.0 762.7 L1755.5 761.2 L1756.0 759.5 L1756.2 758.8 L1756.5 756.2 L1757.0 751.0 L1757.5 745.1 L1757.9 740.2 L1758.0 739.3 L1758.5 732.9 L1759.0 726.4 L1759.5 720.5 L1759.5 720.1 L1760.0 716.6 L1760.5 713.0 L1761.0 710.1 L1761.1 709.4 L1761.5 708.8 L1762.0 708.0 L1762.5 707.4 L1762.6 707.3 L1763.0 708.1 L1763.5 709.5 L1764.0 711.3 L1764.2 712.1 L1764.5 714.7 L1765.0 720.2 L1765.5 726.2 L1765.5 726.8 L1766.0 733.5 L1766.5 741.3 L1766.9 746.8 L1767.0 748.1 L1767.5 753.3 L1768.0 758.2 L1768.5 763.1 L1768.9 766.8 L1769.0 768.0 L1769.5 773.4 L1770.0 778.4 L1770.2 780.2 L1770.5 781.2 L1771.0 782.9 L1771.5 784.4 L1772.0 785.8 L1772.5 787.1 L1772.9 788.2 L1773.0 788.5 L1773.5 789.8 L1774.0 791.1 L1774.5 792.4 L1774.9 793.5 L1775.0 793.9 L1775.5 795.8 L1776.0 797.7 L1776.5 799.8 L1776.9 801.6 L1777.0 802.2 L1777.5 805.4 L1778.0 808.9 L1778.5 812.3 L1778.9 814.9 L1779.0 815.5 L1779.5 818.4 L1780.0 821.2 L1780.5 823.6 L1780.9 825.0 L1781.0 825.0 L1781.5 825.0 L1782.0 825.0 L1782.5 825.0 L1783.0 824.9 L1783.5 824.9 L1783.6 824.9 L1784.0 824.6 L1784.5 823.9 L1785.0 823.2 L1785.5 822.5 L1786.0 821.9 L1786.2 821.6 L1786.5 821.4 L1787.0 821.1 L1787.5 820.8 L1788.0 820.5 L1788.5 820.3 L1788.9 820.2 L1789.0 820.2 L1789.5 820.6 L1790.0 821.0 L1790.5 821.6 L1791.0 822.2 L1791.5 822.8 L1791.6 822.9 L1792.0 823.8 L1792.5 825.1 L1793.0 826.4 L1793.5 827.4 L1793.6 827.6 L1794.0 828.0 L1794.5 828.4 L1795.0 828.7 L1795.5 829.0 L1795.6 829.0 L1796.0 828.7 L1796.5 828.2 L1797.0 827.5 L1797.5 826.8 L1798.0 826.0 L1798.3 825.6 L1798.5 824.8 L1799.0 823.1 L1799.5 821.0 L1800.0 818.8 L1800.3 817.5 L1800.5 815.8 L1801.0 811.9 L1801.5 807.5 L1802.0 802.7 L1802.3 799.9 L1802.5 795.8 L1803.0 785.4 L1803.5 774.9 L1803.6 773.1 L1804.0 767.2 L1804.5 760.4 L1805.0 753.9 L1805.5 747.4 L1805.6 745.9 L1806.0 741.0 L1806.5 734.7 L1806.9 729.8 L1807.0 729.3 L1807.5 725.8 L1808.0 722.7 L1808.3 721.5 L1808.5 721.4 L1809.0 721.0 L1809.5 720.7 L1810.0 720.5 L1810.0 720.5 L1810.5 722.1 L1811.0 724.5 L1811.5 727.2 L1811.6 727.9 L1812.0 732.0 L1812.5 738.4 L1813.0 743.8 L1813.0 744.3 L1813.5 748.7 L1814.0 753.0 L1814.5 756.9 L1815.0 759.8 L1815.0 760.0 L1815.5 761.4 L1816.0 762.7 L1816.5 763.8 L1817.0 764.5 L1817.0 764.4 L1817.5 763.4 L1818.0 762.0 L1818.5 760.2 L1819.0 758.4 L1819.0 758.0 L1819.5 751.2 L1820.0 743.0 L1820.3 738.2 L1820.5 735.1 L1821.0 727.0 L1821.5 719.7 L1821.6 718.2 L1822.0 716.4 L1822.5 714.3 L1823.0 712.5 L1823.4 711.5 L1823.5 711.3 L1824.0 710.9 L1824.5 710.5 L1825.0 710.2 L1825.4 710.0 L1825.5 710.3 L1826.0 711.9 L1826.5 713.9 L1827.0 716.3 L1827.4 718.2 L1827.5 719.1 L1828.0 723.8 L1828.5 728.8 L1829.0 732.9 L1829.0 732.9 L1829.5 735.0 L1830.0 736.9 L1830.5 738.5 L1831.0 739.6 L1831.0 739.6 L1831.5 738.9 L1832.0 738.0 L1832.5 736.8 L1833.0 735.6 L1833.0 735.5 L1833.5 731.8 L1834.0 727.3 L1834.5 722.6 L1835.0 718.2 L1835.0 718.1 L1835.5 714.2 L1836.0 710.3 L1836.5 706.6 L1837.0 703.6 L1837.0 703.6 L1837.5 702.1 L1838.0 700.8 L1838.5 699.8 L1838.7 699.5 L1839.0 700.0 L1839.5 701.0 L1840.0 702.5 L1840.5 704.1 L1840.7 704.9 L1841.0 707.5 L1841.5 713.4 L1842.0 720.3 L1842.3 724.9 L1842.5 728.0 L1843.0 737.9 L1843.5 748.2 L1843.7 751.7 L1844.0 758.4 L1844.5 768.7 L1845.0 778.3 L1845.5 785.6 L1846.0 792.7 L1846.5 799.3 L1847.0 805.0 L1847.0 805.0 L1847.5 808.1 L1848.0 810.9 L1848.5 813.3 L1849.0 815.1 L1849.0 815.1 L1849.5 814.8 L1850.0 814.3 L1850.5 813.7 L1851.0 813.0 L1851.0 813.0 L1851.5 810.1 L1852.0 806.1 L1852.5 801.9 L1853.0 798.4 L1853.0 798.3 L1853.5 796.4 L1854.0 794.7 L1854.5 793.1 L1855.0 791.6 L1855.0 791.6 L1855.5 790.9 L1856.0 790.2 L1856.5 789.5 L1857.0 788.9 L1857.0 788.9 L1857.5 788.4 L1858.0 787.9 L1858.5 787.4 L1859.0 787.0 L1859.5 786.4 L1859.7 786.2 L1860.0 785.7 L1860.5 784.7 L1861.0 783.7 L1861.5 782.7 L1862.0 781.6 L1862.4 780.7 L1862.5 780.3 L1863.0 778.7 L1863.5 777.1 L1864.0 775.3 L1864.5 773.4 L1865.0 771.4 L1865.0 771.3 L1865.5 768.1 L1866.0 764.3 L1866.5 760.3 L1867.0 756.3 L1867.5 752.5 L1867.7 751.1 L1868.0 749.5 L1868.5 746.7 L1869.0 744.0 L1869.5 741.5 L1870.0 739.2 L1870.4 737.6 L1870.5 737.3 L1871.0 736.3 L1871.5 735.3 L1872.0 734.4 L1872.5 733.6 L1873.0 732.7 L1873.3 732.1"/>
<path stroke="#ff0000" d="M226.4 760.8 L226.5 760.8 L227.0 760.7 L227.5 760.6 L228.0 760.6 L228.5 760.5 L229.0 760.5 L229.5 760.4 L230.0 760.3 L230.5 760.3 L231.0 760.2 L231.0 760.2 L231.5 759.8 L232.0 759.2 L232.5 758.6 L233.0 757.9 L233.5 757.3 L234.0 756.7 L234.5 756.1 L235.0 755.8 L235.0 755.8 L235.5 756.1 L236.0 756.4 L236.5 756.9 L237.0 757.4 L237.5 758.0 L238.0 758.7 L238.5 759.4 L239.0 760.1 L239.0 760.2 L239.5 762.8 L240.0 766.3 L240.5 770.2 L241.0 774.0 L241.0 774.2 L241.5 778.0 L242.0 782.2 L242.5 786.3 L243.0 790.0 L243.0 790.2 L243.5 792.7 L244.0 795.2 L244.5 797.4 L245.0 798.9 L245.0 799.0 L245.5 798.6 L246.0 798.1 L246.5 797.4 L247.0 796.7 L247.5 796.0 L248.0 795.2 L248.0 795.2 L248.5 794.4 L249.0 793.3 L249.5 792.4 L250.0 791.5 L250.4 791.0 L250.5 791.1 L251.0 791.6 L251.5 792.3 L252.0 793.1 L252.5 794.1 L253.0 795.1 L253.0 795.2 L253.5 798.1 L254.0 802.0 L254.5 806.1 L255.0 810.0 L255.0 810.2 L255.5 812.8 L256.0 815.4 L256.5 818.0 L257.0 820.6 L257.5 823.0 L258.0 825.4 L258.5 827.8 L259.0 830.1 L259.0 830.2 L259.5 832.0 L260.0 834.0 L260.5 836.0 L261.0 838.0 L261.5 839.8 L262.0 841.5 L262.5 842.9 L263.0 844.0 L263.0 844.0 L263.5 842.8 L264.0 840.9 L264.5 838.7 L265.0 836.1 L265.5 833.4 L266.0 830.5 L266.1 830.2 L266.5 825.5 L267.0 819.7 L267.5 813.3 L268.0 806.4 L268.5 799.0 L269.0 791.0 L269.1 790.2 L269.5 776.4 L270.0 758.5 L270.5 739.8 L271.0 721.9 L271.1 720.2 L271.5 706.5 L272.0 691.1 L272.5 676.9 L273.0 665.2 L273.1 664.0 L273.5 660.5 L274.0 656.7 L274.5 653.3 L275.0 650.2 L275.5 647.5 L276.0 645.2 L276.5 643.7 L276.5 643.8 L277.0 646.8 L277.5 651.0 L278.0 655.8 L278.5 660.1 L278.5 660.5 L279.0 666.1 L279.5 672.1 L280.0 678.2 L280.5 684.1 L281.0 689.5 L281.1 690.1 L281.5 693.1 L282.0 696.3 L282.5 699.3 L283.0 702.2 L283.5 705.0 L284.0 707.7 L284.1 708.1 L284.5 710.0 L285.0 712.1 L285.5 714.1 L286.0 716.0 L286.5 717.9 L287.0 719.8 L287.5 721.7 L288.0 723.7 L288.5 725.7 L289.0 727.8 L289.1 728.1 L289.5 730.4 L290.0 733.0 L290.5 735.6 L291.0 738.3 L291.5 741.0 L292.0 743.8 L292.5 746.6 L293.0 749.5 L293.5 752.4 L294.0 755.4 L294.5 758.5 L295.0 761.7 L295.1 762.2 L295.5 765.8 L296.0 770.5 L296.5 775.3 L297.0 780.2 L297.5 785.0 L298.0 789.5 L298.1 790.2 L298.5 793.1 L299.0 796.7 L299.5 800.1 L300.0 803.4 L300.5 806.3 L301.0 808.8 L301.1 809.2 L301.5 810.0 L302.0 810.9 L302.5 811.7 L303.0 812.3 L303.5 812.9 L303.7 813.0 L304.0 812.0 L304.5 809.5 L305.0 806.5 L305.5 803.4 L306.0 800.6 L306.1 800.2 L306.5 798.7 L307.0 796.7 L307.5 794.9 L308.0 793.1 L308.5 791.7 L309.0 790.6 L309.1 790.4 L309.5 791.4 L310.0 793.1 L310.5 795.1 L311.0 797.3 L311.5 799.6 L312.0 801.8 L312.1 802.2 L312.5 804.2 L313.0 806.9 L313.5 809.7 L314.0 812.4 L314.5 814.8 L315.0 816.9 L315.1 817.2 L315.5 817.8 L316.0 818.4 L316.5 818.9 L316.7 819.0 L317.0 817.9 L317.5 815.3 L318.0 812.1 L318.5 808.5 L319.0 804.9 L319.1 804.2 L319.5 800.3 L320.0 794.9 L320.5 789.2 L321.0 783.5 L321.5 778.0 L322.0 773.1 L322.1 772.2 L322.5 769.9 L323.0 766.9 L323.5 764.1 L324.0 761.5 L324.5 759.3 L325.0 757.7 L325.1 757.4 L325.5 759.0 L326.0 761.9 L326.5 765.5 L327.0 769.3 L327.1 770.2 L327.5 775.4 L328.0 783.3 L328.5 791.7 L329.0 800.0 L329.5 807.5 L329.7 810.2 L330.0 812.3 L330.5 815.9 L331.0 819.4 L331.5 822.5 L332.0 825.2 L332.5 827.3 L332.7 828.0 L333.0 826.8 L333.5 823.8 L334.0 820.0 L334.5 815.8 L335.0 811.3 L335.1 810.2 L335.5 804.5 L336.0 796.0 L336.5 786.9 L337.0 777.3 L337.5 767.7 L338.0 758.4 L338.1 756.2 L338.5 749.3 L339.0 739.6 L339.5 730.1 L340.0 721.5 L340.5 714.4 L340.5 714.1 L341.0 711.8 L341.5 709.5 L342.0 707.5 L342.5 705.9 L343.0 704.6 L343.1 704.3 L343.5 705.2 L344.0 706.7 L344.5 708.6 L345.0 710.8 L345.5 713.1 L345.7 714.1 L346.0 716.2 L346.5 720.3 L347.0 724.9 L347.5 729.8 L348.0 734.8 L348.1 736.1 L348.5 741.1 L349.0 748.3 L349.5 755.9 L350.0 763.6 L350.5 771.1 L351.0 778.3 L351.1 780.2 L351.5 784.4 L352.0 790.3 L352.5 796.1 L353.0 801.5 L353.5 806.2 L353.7 808.2 L354.0 809.3 L354.5 811.3 L355.0 813.1 L355.5 814.5 L355.7 815.0 L356.0 814.1 L356.5 811.8 L357.0 808.8 L357.5 805.3 L358.0 801.4 L358.1 800.2 L358.5 791.9 L359.0 777.5 L359.5 761.2 L360.0 744.8 L360.1 740.0 L360.5 727.8 L361.0 709.4 L361.5 691.2 L362.0 674.5 L362.1 670.0 L362.5 663.1 L363.0 653.7 L363.5 645.2 L364.0 637.9 L364.1 636.0 L364.5 634.1 L365.0 631.6 L365.5 629.3 L366.0 627.4 L366.5 625.8 L366.8 625.2 L367.0 626.5 L367.5 629.9 L368.0 634.3 L368.5 639.3 L369.0 644.5 L369.2 646.1 L369.5 651.4 L370.0 660.1 L370.5 669.2 L371.0 677.7 L371.2 680.1 L371.5 683.7 L372.0 688.6 L372.5 693.3 L373.0 697.7 L373.5 702.0 L373.8 704.1 L374.0 705.7 L374.5 709.0 L375.0 712.2 L375.5 714.9 L375.8 716.1 L376.0 716.6 L376.5 717.4 L377.0 718.1 L377.5 718.8 L378.0 719.4 L378.5 720.0 L379.0 720.6 L379.5 721.2 L380.0 721.9 L380.2 722.1 L380.5 722.6 L381.0 723.4 L381.5 724.2 L382.0 725.0 L382.5 725.8 L383.0 726.6 L383.5 727.4 L384.0 728.2 L384.5 729.0 L385.0 729.8 L385.2 730.1 L385.5 730.7 L386.0 731.7 L386.5 732.6 L387.0 733.6 L387.5 734.6 L388.0 735.7 L388.2 736.2 L388.5 737.7 L389.0 740.2 L389.5 743.1 L390.0 746.1 L390.5 749.2 L391.0 752.5 L391.5 755.7 L392.0 759.0 L392.2 760.2 L392.5 762.6 L393.0 766.7 L393.5 771.0 L394.0 775.4 L394.5 779.7 L395.0 783.8 L395.5 787.7 L396.0 791.1 L396.2 792.2 L396.5 793.1 L397.0 794.5 L397.5 795.8 L398.0 797.0 L398.5 798.1 L399.0 799.2 L399.5 800.2 L400.0 801.3 L400.5 802.5 L401.0 803.7 L401.2 804.2 L401.5 805.2 L402.0 806.9 L402.5 808.5 L403.0 810.2 L403.5 811.9 L404.0 813.7 L404.5 815.6 L405.0 817.4 L405.5 819.4 L406.0 821.4 L406.2 822.2 L406.5 824.1 L407.0 827.5 L407.5 831.1 L408.0 834.9 L408.5 838.8 L409.0 842.7 L409.5 846.6 L410.0 850.3 L410.5 853.9 L411.0 857.1 L411.2 858.3 L411.5 859.4 L412.0 861.1 L412.5 862.8 L413.0 864.4 L413.5 865.9 L414.0 867.4 L414.5 868.9 L415.0 870.4 L415.5 871.9 L416.0 873.6 L416.2 874.3 L416.5 875.5 L417.0 877.7 L417.5 879.9 L418.0 882.1 L418.5 884.4 L419.0 886.7 L419.5 889.0 L420.0 891.3 L420.2 892.3 L420.5 893.7 L421.0 896.4 L421.5 899.2 L422.0 902.0 L422.5 904.8 L423.0 907.4 L423.5 909.8 L424.0 911.8 L424.5 913.4 L424.6 913.7 L425.0 912.4 L425.5 910.4 L426.0 908.0 L426.5 905.3 L427.0 902.3 L427.5 899.1 L428.0 895.8 L428.5 892.3 L429.0 888.8 L429.5 885.3 L430.0 881.8 L430.2 880.3 L430.5 877.8 L431.0 873.1 L431.5 868.3 L432.0 863.3 L432.5 858.2 L433.0 853.1 L433.5 847.8 L434.0 842.6 L434.2 840.3 L434.5 837.1 L435.0 831.4 L435.5 825.7 L436.0 820.0 L436.5 814.2 L437.0 808.4 L437.5 802.4 L438.0 796.2 L438.5 789.9 L439.0 783.3 L439.2 780.2 L439.5 775.2 L440.0 765.4 L440.5 754.9 L441.0 744.3 L441.5 734.0 L442.0 724.3 L442.2 720.2 L442.5 716.6 L443.0 710.2 L443.5 704.0 L444.0 697.9 L444.5 692.1 L445.0 686.6 L445.5 681.3 L446.0 676.3 L446.2 674.1 L446.5 672.4 L447.0 669.3 L447.5 666.2 L448.0 663.3 L448.5 660.6 L449.0 658.2 L449.5 656.3 L449.8 655.3 L450.0 656.2 L450.5 660.2 L451.0 665.5 L451.5 671.4 L452.0 677.3 L452.2 680.1 L452.5 683.4 L453.0 690.5 L453.5 697.7 L454.0 704.6 L454.5 710.6 L454.6 712.1 L455.0 713.9 L455.5 716.3 L456.0 718.6 L456.5 720.6 L457.0 722.3 L457.5 723.6 L457.6 723.9 L458.0 721.5 L458.5 716.8 L459.0 710.9 L459.5 704.6 L459.9 700.1 L460.0 697.4 L460.5 687.1 L461.0 675.8 L461.5 664.6 L462.0 654.4 L462.2 650.1 L462.5 647.7 L463.0 642.9 L463.5 638.5 L464.0 634.8 L464.5 631.9 L464.6 631.3 L465.0 633.2 L465.5 636.9 L466.0 641.6 L466.5 647.0 L467.0 652.9 L467.3 656.1 L467.5 662.3 L468.0 677.7 L468.5 695.0 L469.0 712.0 L469.3 720.1 L469.5 726.2 L470.0 739.0 L470.5 751.7 L471.0 763.8 L471.5 775.2 L472.0 785.4 L472.3 790.1 L472.5 792.4 L473.0 796.9 L473.5 801.1 L474.0 805.1 L474.5 808.8 L475.0 812.3 L475.5 815.6 L476.0 818.7 L476.3 820.2 L476.5 821.0 L477.0 822.8 L477.5 824.5 L478.0 826.1 L478.5 827.6 L479.0 828.8 L479.5 829.8 L479.7 830.0 L480.0 829.5 L480.5 828.5 L481.0 827.3 L481.5 825.9 L482.0 824.4 L482.5 822.8 L483.0 821.1 L483.3 820.2 L483.5 819.1 L484.0 816.3 L484.5 813.2 L485.0 809.9 L485.5 806.6 L486.0 803.4 L486.5 800.3 L487.0 797.6 L487.3 796.2 L487.5 795.6 L488.0 794.1 L488.5 792.8 L489.0 791.8 L489.3 791.4 L489.5 792.1 L490.0 794.4 L490.5 797.4 L491.0 800.7 L491.5 804.0 L492.0 806.9 L492.3 808.2 L492.5 808.7 L493.0 809.9 L493.5 811.1 L494.0 812.1 L494.5 813.0 L495.0 813.7 L495.3 814.0 L495.5 813.2 L496.0 810.4 L496.5 806.8 L497.0 802.7 L497.3 800.2 L497.5 796.8 L498.0 787.4 L498.5 776.9 L499.0 766.2 L499.3 760.2 L499.5 755.9 L500.0 745.2 L500.5 734.7 L501.0 725.0 L501.3 720.2 L501.5 718.2 L502.0 713.8 L502.5 709.8 L503.0 706.6 L503.3 705.3 L503.5 705.7 L504.0 707.2 L504.5 709.1 L505.0 711.1 L505.3 712.1 L505.5 712.8 L506.0 714.7 L506.5 716.5 L507.0 718.2 L507.5 719.5 L507.7 719.9 L508.0 719.2 L508.5 717.6 L509.0 715.6 L509.5 713.4 L510.0 711.3 L510.3 710.1 L510.5 709.4 L511.0 707.4 L511.5 705.4 L512.0 703.3 L512.5 701.4 L513.0 699.6 L513.5 698.2 L513.9 697.3 L514.0 697.8 L514.5 701.1 L515.0 705.5 L515.5 710.7 L516.0 716.4 L516.3 720.2 L516.5 724.7 L517.0 738.6 L517.5 754.4 L518.0 770.6 L518.3 780.2 L518.5 786.0 L519.0 802.0 L519.5 817.9 L520.0 832.5 L520.3 840.2 L520.5 842.6 L521.0 848.6 L521.5 854.0 L522.0 859.1 L522.5 863.7 L523.0 867.8 L523.3 870.3 L523.5 871.0 L524.0 873.1 L524.5 874.9 L525.0 876.4 L525.3 877.1 L525.5 876.5 L526.0 874.6 L526.5 872.2 L527.0 869.3 L527.5 866.1 L528.0 862.6 L528.3 860.3 L528.5 856.9 L529.0 845.5 L529.5 832.2 L530.0 817.8 L530.5 803.0 L531.0 788.8 L531.3 780.3 L531.5 776.1 L532.0 764.1 L532.5 752.3 L533.0 741.8 L533.3 736.1 L533.5 734.9 L534.0 731.3 L534.5 728.0 L535.0 725.0 L535.5 722.4 L536.0 720.4 L536.3 719.3 L536.5 719.7 L537.0 721.4 L537.5 723.7 L538.0 726.3 L538.3 728.1 L538.5 730.2 L539.0 737.4 L539.5 745.7 L540.0 754.5 L540.3 760.1 L540.5 763.2 L540.9 770.2 L541.0 771.9 L541.5 779.0 L541.5 779.2 L542.0 784.5 L542.3 787.0 L542.5 785.5 L543.0 778.5 L543.5 769.9 L543.6 768.1 L544.0 758.7 L544.5 745.8 L545.0 730.5 L545.3 720.1 L545.5 715.7 L546.0 702.6 L546.5 690.1 L547.0 677.5 L547.5 664.5 L548.0 650.5 L548.3 640.1 L548.5 632.7 L549.0 606.2 L549.5 582.9 L549.5 581.5 L550.0 564.9 L550.5 550.5 L550.7 546.7 L551.0 542.7 L551.5 537.4 L552.0 533.2 L552.4 531.1 L552.5 531.9 L553.0 535.6 L553.5 540.6 L554.0 546.3 L554.0 546.7 L554.5 559.0 L555.0 575.0 L555.2 582.8 L555.5 595.4 L556.0 621.0 L556.4 640.0 L556.5 649.9 L557.0 686.2 L557.5 724.1 L558.0 759.3 L558.4 780.1 L558.5 784.5 L559.0 797.3 L559.2 801.9 L559.5 808.8 L560.0 819.2 L560.1 820.9 L560.5 827.0 L561.0 833.8 L561.4 837.0 L561.5 836.3 L562.0 832.4 L562.5 827.6 L562.6 826.4 L563.0 821.5 L563.5 814.5 L563.5 814.2 L564.0 806.4 L564.4 800.2 L564.5 797.1 L565.0 785.4 L565.5 774.7 L565.5 774.4 L566.0 767.1 L566.5 760.6 L566.7 758.7 L567.0 756.9 L567.5 754.4 L568.0 752.4 L568.4 751.4 L568.5 751.8 L569.0 754.6 L569.2 755.9 L569.5 760.2 L569.8 765.2 L570.0 770.5 L570.4 780.1 L570.5 781.6 L571.0 786.7 L571.5 791.1 L572.0 795.1 L572.5 798.7 L573.0 802.0 L573.4 804.2 L573.5 804.6 L574.0 806.1 L574.5 807.4 L575.0 808.5 L575.5 809.6 L576.0 810.7 L576.5 811.8 L577.0 812.9 L577.5 814.0 L578.0 815.2 L578.4 816.2 L578.5 816.7 L579.0 818.8 L579.5 821.0 L580.0 823.4 L580.5 825.8 L581.0 828.2 L581.5 830.5 L582.0 832.7 L582.4 834.3 L582.5 834.6 L583.0 836.1 L583.5 837.6 L584.0 839.1 L584.5 840.4 L585.0 841.5 L585.4 842.1 L585.5 841.6 L586.0 839.0 L586.5 835.7 L587.0 831.9 L587.5 827.6 L588.0 823.1 L588.5 818.4 L589.0 813.7 L589.4 810.3 L589.5 808.8 L590.0 802.5 L590.5 795.6 L591.0 788.5 L591.5 781.5 L592.0 774.8 L592.4 770.2 L592.5 769.2 L593.0 765.0 L593.5 760.7 L594.0 756.6 L594.5 753.0 L595.0 750.1 L595.4 748.4 L595.5 748.6 L596.0 749.9 L596.5 751.7 L597.0 753.7 L597.5 756.0 L598.0 758.3 L598.4 760.1 L598.5 760.9 L599.0 764.5 L599.5 768.4 L600.0 772.2 L600.5 775.5 L601.0 778.9 L601.5 782.3 L602.0 785.5 L602.5 788.1 L603.0 790.0 L603.5 787.8 L604.0 784.8 L604.5 781.2 L605.0 777.3 L605.5 773.6 L606.0 770.2 L606.0 770.2 L606.5 767.6 L607.0 764.8 L607.5 762.1 L608.0 759.4 L608.5 756.9 L609.0 754.7 L609.5 752.8 L610.0 751.4 L610.0 751.4 L610.5 755.6 L611.0 761.9 L611.5 769.0 L612.0 776.0 L612.0 776.2 L612.5 784.1 L613.0 792.7 L613.5 801.0 L614.0 808.0 L614.0 808.2 L614.5 811.4 L615.0 814.6 L615.5 817.4 L616.0 819.6 L616.4 821.0 L616.5 820.7 L617.0 818.0 L617.5 814.3 L618.0 810.0 L618.5 805.3 L619.0 800.4 L619.0 800.2 L619.5 791.8 L620.0 781.9 L620.5 771.3 L621.0 760.6 L621.0 760.2 L621.5 748.5 L622.0 735.5 L622.5 723.0 L623.0 712.5 L623.0 712.2 L623.5 707.7 L624.0 703.3 L624.5 699.2 L625.0 695.6 L625.5 692.7 L626.0 690.4 L626.0 690.3 L626.5 692.4 L627.0 695.4 L627.5 699.0 L628.0 703.0 L628.5 707.3 L629.0 711.8 L629.0 712.1 L629.5 720.1 L630.0 729.9 L630.5 740.1 L631.0 749.6 L631.0 750.1 L631.5 756.7 L632.0 763.2 L632.5 769.4 L633.0 775.7 L633.5 782.4 L634.0 789.6 L634.0 790.3 L634.5 801.1 L635.0 814.2 L635.5 827.5 L636.0 839.4 L636.0 840.3 L636.5 847.3 L637.0 854.5 L637.5 861.4 L638.0 867.9 L638.5 874.1 L639.0 879.8 L639.0 880.3 L639.5 884.0 L640.0 888.0 L640.5 891.5 L641.0 894.0 L641.0 894.1 L641.5 892.2 L642.0 889.4 L642.5 885.9 L643.0 881.9 L643.5 877.6 L643.6 876.2 L644.0 868.1 L644.5 853.8 L645.0 838.2 L645.5 823.9 L645.6 820.2 L646.0 814.4 L646.5 806.5 L647.0 799.1 L647.5 792.4 L648.0 786.7 L648.0 786.2 L648.5 784.1 L649.0 782.1 L649.5 780.2 L650.0 778.5 L650.5 776.9 L651.0 775.3 L651.0 775.2 L651.5 774.3 L652.0 773.4 L652.5 772.6 L653.0 771.8 L653.5 771.0 L654.0 770.2 L654.5 769.3 L655.0 768.3 L655.1 768.2 L655.5 766.4 L656.0 764.2 L656.5 761.9 L657.0 759.4 L657.5 756.8 L658.0 754.1 L658.5 751.3 L659.0 748.5 L659.1 748.2 L659.5 744.9 L660.0 741.0 L660.5 736.9 L661.0 732.7 L661.5 728.6 L662.0 724.6 L662.1 724.2 L662.5 721.1 L663.0 717.6 L663.5 714.2 L664.0 710.9 L664.5 707.6 L665.0 704.5 L665.1 704.1 L665.5 701.8 L666.0 699.1 L666.5 696.4 L667.0 693.9 L667.5 691.6 L668.0 689.6 L668.5 688.3 L668.5 688.3 L669.0 689.1 L669.5 690.1 L670.0 691.3 L670.5 692.6 L671.0 694.0 L671.5 695.6 L671.7 696.1 L672.0 698.1 L672.5 701.6 L673.0 705.5 L673.5 709.7 L674.0 714.1 L674.5 718.7 L675.0 723.4 L675.1 724.2 L675.5 729.9 L676.0 737.2 L676.5 744.9 L677.0 752.9 L677.5 760.9 L678.0 768.9 L678.1 770.2 L678.5 777.1 L679.0 785.5 L679.5 794.1 L680.0 802.6 L680.5 810.9 L681.0 818.9 L681.1 820.2 L681.5 826.0 L682.0 833.0 L682.5 839.6 L683.0 845.4 L683.1 846.3 L683.5 848.8 L684.0 851.7 L684.5 854.3 L685.0 856.5 L685.5 858.1 L685.5 858.0 L686.0 855.9 L686.5 853.0 L687.0 849.6 L687.5 845.5 L688.0 841.1 L688.1 840.3 L688.5 829.6 L689.0 813.3 L689.5 796.3 L689.7 790.3 L690.0 781.3 L690.5 766.5 L691.0 754.0 L691.1 752.3 L691.5 748.9 L692.0 745.1 L692.5 741.9 L693.0 739.3 L693.5 737.4 L694.0 739.6 L694.5 742.8 L695.0 746.6 L695.5 750.6 L695.7 752.2 L696.0 755.7 L696.5 762.2 L697.0 769.2 L697.5 776.2 L698.0 782.9 L698.1 784.2 L698.5 788.5 L699.0 794.1 L699.5 799.2 L700.0 803.5 L700.1 804.2 L700.5 805.4 L701.0 806.7 L701.5 807.7 L701.7 808.0 L702.0 807.2 L702.5 805.4 L703.0 803.1 L703.5 800.5 L704.0 797.8 L704.5 795.1 L705.0 792.7 L705.1 792.2 L705.5 790.8 L706.0 789.0 L706.5 787.4 L707.0 785.7 L707.5 784.1 L708.0 782.4 L708.5 780.6 L709.0 778.6 L709.1 778.2 L709.5 775.8 L710.0 772.5 L710.5 768.9 L711.0 765.3 L711.5 761.8 L712.0 758.8 L712.1 758.2 L712.5 756.9 L713.0 755.2 L713.5 753.6 L714.0 752.1 L714.5 750.8 L715.0 749.6 L715.5 748.7 L715.7 748.4 L716.0 748.9 L716.5 750.2 L717.0 751.9 L717.5 753.7 L718.0 755.7 L718.1 756.2 L718.5 758.7 L719.0 762.5 L719.5 766.7 L720.0 771.0 L720.5 775.2 L721.0 779.2 L721.1 780.2 L721.5 782.7 L722.0 786.0 L722.5 789.2 L723.0 792.3 L723.5 795.1 L723.7 796.2 L724.0 797.0 L724.5 798.4 L725.0 799.7 L725.5 800.7 L725.7 801.0 L726.0 800.6 L726.5 799.7 L727.0 798.6 L727.5 797.4 L728.0 795.9 L728.5 794.4 L729.0 792.7 L729.1 792.2 L729.5 789.0 L730.0 783.8 L730.5 778.0 L731.0 771.8 L731.1 770.1 L731.5 764.2 L732.0 755.0 L732.5 745.9 L733.0 738.0 L733.1 736.1 L733.5 733.8 L734.0 730.8 L734.5 728.0 L735.0 725.5 L735.5 723.4 L736.0 721.7 L736.1 721.3 L736.5 722.6 L737.0 725.1 L737.5 728.2 L738.0 731.8 L738.5 735.8 L738.5 736.1 L739.0 746.8 L739.5 761.2 L740.0 776.1 L740.1 780.3 L740.5 789.3 L741.0 802.0 L741.5 814.5 L742.0 826.7 L742.1 830.3 L742.5 837.8 L743.0 848.6 L743.5 858.8 L744.0 867.9 L744.1 870.3 L744.5 873.3 L745.0 877.5 L745.5 881.3 L746.0 884.5 L746.5 886.9 L746.5 887.1 L747.0 884.2 L747.5 879.9 L748.0 874.6 L748.5 868.6 L749.0 862.3 L749.2 860.2 L749.5 851.6 L750.0 837.0 L750.5 821.0 L751.0 805.0 L751.2 800.1 L751.5 789.6 L752.0 773.6 L752.5 758.0 L753.0 744.1 L753.2 740.1 L753.5 735.3 L754.0 728.6 L754.5 722.6 L755.0 717.5 L755.2 716.1 L755.5 714.9 L756.0 713.1 L756.5 711.6 L757.0 710.4 L757.5 709.4 L757.6 709.3 L758.0 710.1 L758.5 711.3 L759.0 712.8 L759.5 714.3 L760.0 715.7 L760.2 716.1 L760.5 716.7 L761.0 717.7 L761.5 718.5 L762.0 719.3 L762.5 719.9 L762.6 719.9 L763.0 719.4 L763.5 718.5 L764.0 717.5 L764.5 716.4 L765.0 715.2 L765.5 713.9 L766.0 712.6 L766.2 712.1 L766.5 710.6 L767.0 708.2 L767.5 705.5 L768.0 702.7 L768.5 699.7 L769.0 696.8 L769.5 693.9 L770.0 691.1 L770.2 690.1 L770.5 688.5 L771.0 686.0 L771.5 683.5 L772.0 681.1 L772.5 678.6 L773.0 676.1 L773.5 673.6 L774.0 671.0 L774.2 670.1 L774.5 668.1 L775.0 665.0 L775.5 661.7 L776.0 658.4 L776.5 655.1 L777.0 651.8 L777.5 648.5 L778.0 645.2 L778.2 644.0 L778.5 642.1 L779.0 639.1 L779.5 636.2 L780.0 633.2 L780.5 630.3 L781.0 627.3 L781.5 624.3 L782.0 621.2 L782.2 620.0 L782.5 617.8 L783.0 614.0 L783.5 610.0 L784.0 605.9 L784.5 601.6 L785.0 597.2 L785.5 592.8 L786.0 588.4 L786.5 584.0 L787.0 579.6 L787.5 575.3 L788.0 571.2 L788.5 567.1 L789.0 563.3 L789.5 559.7 L790.0 556.3 L790.5 553.2 L791.0 550.4 L791.5 548.0 L791.9 546.3 L792.0 546.7 L792.5 549.1 L793.0 551.9 L793.5 555.1 L794.0 558.6 L794.5 562.5 L795.0 566.7 L795.5 571.3 L796.0 576.1 L796.5 581.3 L797.0 586.7 L797.5 592.4 L798.0 598.4 L798.3 602.0 L798.5 608.7 L799.0 628.3 L799.5 651.0 L800.0 674.1 L800.3 687.8 L800.5 694.6 L801.0 713.2 L801.5 731.6 L802.0 749.7 L802.5 767.7 L803.0 785.6 L803.5 803.4 L804.0 821.3 L804.5 839.3 L804.8 850.1 L805.0 857.4 L805.5 875.9 L806.0 894.5 L806.5 913.0 L807.0 931.2 L807.5 948.9 L807.8 958.5 L808.0 965.0 L808.5 979.2 L808.8 987.4 L809.0 992.2 L809.5 1004.0 L809.9 1012.7 L810.0 1014.3 L810.5 1022.3 L811.0 1029.5 L811.4 1033.8 L811.5 1033.4 L812.0 1028.2 L812.5 1021.0 L813.0 1013.2 L813.0 1012.8 L813.5 1002.9 L814.0 991.5 L814.2 987.5 L814.5 978.2 L815.0 963.9 L815.2 958.5 L815.5 955.6 L816.0 950.7 L816.5 946.1 L817.0 942.0 L817.5 938.3 L818.0 934.9 L818.5 932.0 L818.6 931.4 L819.0 930.5 L819.5 929.6 L820.0 928.7 L820.5 928.0 L820.9 927.6 L821.0 927.6 L821.5 928.1 L822.0 928.8 L822.5 929.6 L823.0 930.6 L823.4 931.3 L823.5 932.2 L824.0 936.2 L824.5 941.1 L825.0 946.5 L825.5 952.1 L826.0 957.6 L826.1 958.5 L826.5 963.4 L826.8 967.4 L827.0 969.0 L827.5 973.9 L827.6 975.2 L828.0 977.7 L828.5 981.0 L828.8 982.3 L829.0 981.0 L829.5 976.2 L830.0 970.4 L830.2 967.9 L830.5 963.4 L831.0 954.9 L831.2 950.9 L831.5 945.5 L832.0 935.2 L832.2 931.3 L832.5 922.7 L833.0 909.1 L833.5 895.0 L834.0 880.0 L834.5 863.7 L834.9 850.0 L835.0 843.8 L835.5 810.6 L836.0 775.6 L836.2 760.0 L836.5 748.9 L837.0 727.8 L837.5 707.9 L838.0 689.1 L838.2 680.0 L838.5 672.6 L839.0 657.8 L839.5 643.7 L840.0 631.3 L840.2 626.0 L840.5 623.5 L841.0 618.5 L841.5 614.0 L842.0 610.1 L842.5 606.9 L842.9 605.2 L843.0 605.9 L843.5 609.1 L844.0 613.4 L844.5 618.3 L845.0 623.4 L845.3 626.1 L845.5 629.7 L846.0 637.9 L846.5 646.6 L847.0 655.8 L847.5 665.3 L848.0 675.0 L848.3 680.1 L848.5 685.9 L849.0 698.7 L849.5 711.8 L850.0 724.3 L850.3 730.1 L850.5 733.9 L851.0 741.7 L851.5 748.9 L852.0 755.3 L852.3 758.1 L852.5 759.5 L853.0 762.1 L853.5 764.5 L854.0 766.3 L854.3 767.0 L854.5 766.0 L855.0 762.9 L855.5 759.0 L856.0 754.6 L856.3 752.1 L856.5 748.2 L857.0 737.9 L857.5 726.7 L858.0 716.5 L858.3 712.1 L858.5 710.4 L859.0 706.9 L859.5 703.7 L860.0 700.8 L860.5 698.6 L860.9 697.3 L861.0 697.7 L861.5 699.9 L862.0 702.7 L862.5 706.1 L863.0 709.9 L863.3 712.1 L863.5 717.0 L864.0 730.7 L864.5 746.4 L865.0 762.2 L865.3 770.3 L865.5 775.7 L866.0 788.0 L866.5 799.9 L867.0 810.8 L867.3 816.2 L867.5 818.8 L868.0 824.5 L868.5 829.6 L869.0 834.1 L869.3 836.2 L869.5 837.0 L870.0 838.4 L870.5 839.7 L871.0 840.8 L871.5 842.0 L872.0 843.4 L872.3 844.2 L872.5 845.5 L873.0 848.6 L873.5 852.1 L874.0 855.7 L874.5 859.1 L874.7 860.3 L875.0 861.9 L875.5 864.5 L876.0 867.1 L876.5 869.4 L877.0 871.3 L877.3 872.1 L877.5 871.9 L878.0 871.5 L878.5 871.0 L879.0 870.4 L879.5 869.7 L880.0 868.8 L880.3 868.3 L880.5 865.1 L881.0 854.7 L881.5 841.7 L882.0 828.0 L882.3 820.3 L882.5 814.3 L883.0 799.1 L883.5 783.5 L884.0 768.5 L884.3 760.1 L884.5 755.8 L885.0 745.5 L885.5 735.7 L886.0 726.0 L886.3 720.1 L886.5 716.0 L887.0 705.4 L887.5 694.9 L888.0 685.2 L888.3 680.1 L888.5 678.1 L889.0 673.2 L889.5 668.7 L890.0 664.7 L890.5 661.2 L890.7 660.1 L891.0 659.5 L891.5 658.7 L892.0 658.0 L892.5 657.3 L893.0 656.6 L893.3 656.0 L893.5 655.5 L894.0 654.1 L894.5 652.4 L895.0 650.8 L895.5 649.2 L895.9 648.0 L896.0 647.9 L896.5 647.0 L897.0 646.2 L897.5 645.4 L898.0 644.6 L898.5 643.8 L899.0 642.8 L899.3 642.0 L899.5 640.8 L900.0 636.5 L900.5 631.6 L901.0 626.7 L901.3 624.1 L901.5 623.0 L902.0 620.0 L902.5 617.2 L903.0 614.6 L903.5 612.5 L903.9 611.2 L904.0 611.5 L904.5 613.5 L905.0 616.3 L905.5 619.6 L906.0 623.4 L906.3 626.0 L906.5 630.2 L907.0 644.6 L907.5 661.6 L908.0 679.3 L908.3 690.1 L908.5 696.0 L909.0 712.7 L909.5 729.4 L910.0 745.9 L910.3 756.1 L910.5 761.2 L911.0 775.6 L911.5 789.6 L912.0 802.6 L912.3 810.3 L912.5 812.8 L913.0 819.9 L913.5 826.6 L914.0 832.7 L914.5 838.1 L914.7 840.3 L915.0 841.5 L915.5 843.9 L916.0 846.0 L916.5 847.8 L917.0 849.3 L917.3 850.1 L917.5 849.8 L918.0 848.6 L918.5 847.1 L919.0 845.4 L919.5 843.5 L920.0 841.6 L920.3 840.3 L920.5 839.2 L921.0 835.7 L921.5 831.9 L922.0 827.9 L922.5 823.6 L923.0 819.2 L923.3 816.2 L923.5 814.3 L924.0 807.7 L924.5 800.7 L925.0 793.5 L925.5 786.5 L926.0 780.0 L926.3 776.2 L926.5 775.1 L927.0 771.8 L927.5 768.5 L928.0 765.3 L928.5 762.5 L929.0 759.9 L929.5 757.8 L929.9 756.4 L930.0 756.6 L930.5 759.4 L931.0 763.2 L931.5 767.7 L932.0 772.7 L932.4 776.2 L932.5 779.0 L933.0 789.5 L933.5 801.3 L934.0 812.9 L934.4 820.3 L934.5 822.5 L935.0 830.0 L935.5 837.3 L936.0 844.2 L936.5 850.7 L937.0 856.6 L937.4 860.3 L937.5 861.1 L938.0 863.9 L938.5 866.5 L939.0 868.9 L939.5 870.8 L940.0 872.1 L940.0 872.0 L940.5 870.2 L941.0 867.9 L941.5 865.1 L942.0 862.2 L942.4 860.3 L942.5 859.4 L943.0 856.0 L943.5 852.4 L944.0 848.8 L944.5 845.3 L945.0 842.2 L945.4 840.2 L945.5 839.9 L946.0 838.7 L946.5 837.6 L947.0 836.6 L947.5 835.6 L948.0 834.7 L948.5 833.8 L949.0 832.9 L949.4 832.2 L949.5 832.0 L950.0 831.1 L950.5 830.2 L951.0 829.3 L951.5 828.4 L952.0 827.6 L952.5 826.7 L953.0 826.0 L953.5 825.3 L954.0 824.8 L954.4 824.4 L954.5 824.6 L955.0 825.5 L955.5 826.6 L956.0 828.0 L956.5 829.5 L957.0 831.0 L957.4 832.2 L957.5 833.0 L958.0 836.3 L958.5 840.1 L959.0 843.8 L959.4 846.2 L959.5 846.8 L960.0 848.9 L960.5 850.8 L961.0 852.1 L961.0 852.0 L961.5 850.4 L962.0 848.3 L962.5 845.7 L963.0 842.7 L963.4 840.2 L963.5 837.8 L964.0 825.0 L964.5 809.5 L965.0 792.8 L965.4 780.2 L965.5 775.7 L966.0 755.9 L966.5 735.2 L967.0 714.9 L967.4 700.2 L967.5 696.4 L968.0 681.2 L968.5 666.6 L969.0 651.9 L969.4 640.2 L969.5 635.9 L970.0 617.1 L970.2 608.4 L970.5 602.4 L971.0 591.6 L971.2 588.5 L971.5 585.7 L972.0 581.9 L972.5 579.5 L972.5 579.6 L973.0 584.0 L973.5 590.5 L973.5 591.3 L974.0 605.9 L974.3 618.0 L974.5 629.1 L975.0 659.3 L975.0 660.2 L975.5 671.4 L976.0 681.1 L976.5 690.1 L977.0 699.7 L977.0 700.2 L977.5 711.9 L978.0 724.6 L978.5 737.4 L979.0 749.7 L979.0 750.2 L979.5 760.4 L980.0 770.9 L980.5 780.8 L981.0 789.8 L981.0 790.2 L981.5 795.6 L982.0 800.7 L982.5 805.5 L983.0 810.0 L983.0 810.2 L983.5 813.4 L984.0 816.7 L984.5 819.9 L985.0 822.6 L985.5 824.6 L985.6 825.0 L986.0 822.6 L986.5 818.2 L987.0 812.7 L987.5 806.7 L988.0 800.6 L988.0 800.2 L988.5 791.7 L989.0 781.6 L989.5 771.1 L990.0 760.8 L990.0 760.2 L990.5 750.5 L991.0 740.0 L991.5 729.8 L992.0 720.7 L992.0 720.2 L992.5 714.8 L993.0 709.3 L993.5 704.4 L994.0 700.4 L994.0 700.1 L994.5 698.7 L995.0 697.3 L995.5 696.2 L996.0 695.2 L996.0 695.1 L996.5 694.7 L997.0 694.4 L997.5 694.1 L998.0 693.9 L998.5 693.5 L999.0 693.1 L999.0 693.1 L999.5 691.4 L1000.0 689.0 L1000.5 686.5 L1001.0 684.3 L1001.0 684.1 L1001.5 682.8 L1002.0 681.4 L1002.5 680.2 L1003.0 679.3 L1003.0 679.3 L1003.5 680.9 L1004.0 683.3 L1004.5 686.3 L1005.0 689.8 L1005.0 690.1 L1005.5 699.1 L1006.0 711.5 L1006.5 725.2 L1007.0 738.9 L1007.0 740.2 L1007.5 753.7 L1008.0 769.5 L1008.5 785.0 L1009.0 798.9 L1009.0 800.2 L1009.5 807.9 L1010.0 815.9 L1010.5 823.2 L1011.0 829.6 L1011.0 830.2 L1011.5 833.2 L1012.0 836.4 L1012.5 839.4 L1013.0 842.0 L1013.5 844.2 L1014.0 845.9 L1014.1 846.0 L1014.5 845.1 L1015.0 843.8 L1015.5 842.1 L1016.0 840.2 L1016.5 838.3 L1017.0 836.5 L1017.1 836.2 L1017.5 834.2 L1018.0 831.6 L1018.5 828.9 L1019.0 826.4 L1019.5 824.2 L1020.0 822.6 L1020.1 822.4 L1020.5 823.3 L1021.0 824.7 L1021.5 826.4 L1022.0 828.2 L1022.5 830.1 L1023.0 832.0 L1023.1 832.3 L1023.5 834.2 L1024.0 836.5 L1024.5 838.9 L1025.0 841.3 L1025.5 843.7 L1026.0 846.0 L1026.1 846.3 L1026.5 848.0 L1027.0 850.0 L1027.5 852.1 L1028.0 854.1 L1028.5 855.9 L1029.0 857.5 L1029.5 858.7 L1029.7 859.1 L1030.0 858.0 L1030.5 855.8 L1031.0 853.1 L1031.5 850.0 L1032.0 846.7 L1032.1 846.2 L1032.5 841.5 L1033.0 835.1 L1033.5 828.2 L1034.0 821.3 L1034.1 820.2 L1034.5 813.8 L1035.0 805.8 L1035.5 798.1 L1036.0 791.2 L1036.1 790.2 L1036.5 786.9 L1037.0 783.2 L1037.5 780.0 L1038.0 777.7 L1038.1 777.4 L1038.5 779.1 L1039.0 782.1 L1039.5 785.6 L1040.0 789.5 L1040.1 790.2 L1040.5 796.9 L1041.0 806.5 L1041.5 816.4 L1042.0 825.0 L1042.1 826.3 L1042.5 829.7 L1043.0 833.7 L1043.5 837.4 L1044.0 840.8 L1044.5 843.6 L1045.0 845.8 L1045.1 846.1 L1045.5 844.8 L1046.0 842.8 L1046.5 840.3 L1047.0 837.5 L1047.5 834.3 L1048.0 830.9 L1048.1 830.3 L1048.5 822.3 L1049.0 810.3 L1049.5 796.9 L1050.0 782.8 L1050.1 780.3 L1050.5 764.9 L1051.0 744.6 L1051.5 723.7 L1052.0 703.7 L1052.1 700.0 L1052.5 687.5 L1053.0 672.7 L1053.5 658.1 L1054.0 643.1 L1054.1 640.0 L1054.5 626.6 L1055.0 608.0 L1055.0 606.6 L1055.5 567.5 L1056.0 520.0 L1056.3 492.7 L1056.5 482.2 L1057.0 454.0 L1057.5 429.4 L1057.7 421.2 L1058.0 415.3 L1058.5 406.1 L1059.0 398.2 L1059.5 392.4 L1059.6 391.3 L1060.0 394.7 L1060.5 401.2 L1061.0 409.3 L1061.5 418.5 L1061.7 421.3 L1062.0 435.7 L1062.5 460.4 L1063.0 487.9 L1063.1 493.0 L1063.5 525.1 L1064.0 568.1 L1064.4 607.3 L1064.5 613.4 L1065.0 668.0 L1065.5 721.2 L1065.7 740.1 L1066.0 754.3 L1066.5 775.5 L1067.0 795.6 L1067.1 800.1 L1067.5 815.8 L1068.0 835.6 L1068.5 855.4 L1069.0 875.6 L1069.1 880.1 L1069.4 891.7 L1069.5 896.6 L1069.7 901.9 L1070.0 910.2 L1070.0 910.8 L1070.5 906.8 L1070.9 902.0 L1071.0 900.6 L1071.5 892.5 L1071.5 891.8 L1072.0 882.8 L1072.1 880.2 L1072.5 869.4 L1073.0 853.7 L1073.5 837.8 L1074.0 823.3 L1074.1 820.2 L1074.5 813.7 L1075.0 805.6 L1075.5 798.1 L1076.0 791.6 L1076.1 790.2 L1076.5 787.6 L1077.0 784.8 L1077.1 784.4 L1077.5 786.3 L1078.0 789.8 L1078.5 794.1 L1079.0 799.0 L1079.1 800.2 L1079.5 808.3 L1080.0 821.4 L1080.5 835.3 L1081.0 847.6 L1081.1 850.3 L1081.5 854.7 L1082.0 860.3 L1082.5 865.5 L1083.0 870.3 L1083.5 874.9 L1084.0 879.2 L1084.1 880.3 L1084.5 882.5 L1085.0 885.4 L1085.5 888.4 L1086.0 891.2 L1086.5 893.8 L1087.0 896.1 L1087.5 898.2 L1088.0 899.8 L1088.1 900.1 L1088.5 899.7 L1089.0 899.0 L1089.5 898.2 L1090.0 897.3 L1090.5 896.2 L1091.0 895.1 L1091.5 893.9 L1092.0 892.7 L1092.1 892.3 L1092.5 890.3 L1093.0 887.3 L1093.5 883.9 L1094.0 880.2 L1094.5 876.1 L1095.0 871.6 L1095.1 870.3 L1095.5 862.9 L1096.0 850.7 L1096.5 837.2 L1097.0 823.9 L1097.1 820.3 L1097.5 811.1 L1098.0 798.1 L1098.5 785.4 L1099.0 773.4 L1099.1 770.3 L1099.5 764.2 L1100.0 756.1 L1100.5 748.6 L1101.0 741.9 L1101.2 740.1 L1101.5 737.9 L1102.0 735.1 L1102.5 732.5 L1103.0 730.1 L1103.5 727.7 L1104.0 725.0 L1104.2 724.1 L1104.5 721.6 L1105.0 718.0 L1105.5 714.3 L1106.0 710.4 L1106.5 706.2 L1107.0 701.6 L1107.2 700.1 L1107.5 694.1 L1108.0 684.2 L1108.5 673.5 L1109.0 663.1 L1109.2 660.0 L1109.5 653.8 L1110.0 644.3 L1110.5 635.4 L1111.0 627.9 L1111.2 626.0 L1111.5 624.6 L1112.0 622.8 L1112.5 621.1 L1113.0 619.8 L1113.5 618.7 L1113.8 618.2 L1114.0 618.8 L1114.5 620.5 L1115.0 622.6 L1115.5 625.0 L1116.0 627.3 L1116.2 628.0 L1116.5 629.8 L1117.0 632.5 L1117.5 635.3 L1118.0 638.1 L1118.5 640.8 L1119.0 643.3 L1119.2 644.1 L1119.5 645.0 L1120.0 646.2 L1120.5 647.4 L1121.0 648.4 L1121.5 649.5 L1122.0 650.7 L1122.5 652.0 L1123.0 653.5 L1123.2 654.1 L1123.5 657.3 L1124.0 663.2 L1124.5 670.1 L1125.0 677.5 L1125.2 680.1 L1125.5 687.4 L1126.0 699.7 L1126.5 712.7 L1127.0 725.7 L1127.2 730.0 L1127.5 738.2 L1128.0 750.6 L1128.5 762.9 L1129.0 775.6 L1129.2 780.3 L1129.5 789.6 L1130.0 804.5 L1130.5 819.7 L1131.0 834.9 L1131.2 840.3 L1131.5 849.8 L1132.0 864.4 L1132.5 879.2 L1133.0 894.5 L1133.2 900.3 L1133.5 912.9 L1133.5 914.7 L1134.0 927.5 L1134.0 928.6 L1134.5 938.3 L1134.5 938.4 L1135.0 935.6 L1135.5 931.5 L1136.0 926.6 L1136.5 922.1 L1136.5 921.7 L1137.0 915.2 L1137.5 908.1 L1137.9 902.6 L1138.0 900.6 L1138.5 892.6 L1139.0 883.9 L1139.2 880.2 L1139.5 870.3 L1140.0 853.5 L1140.0 852.6 L1140.5 842.7 L1140.9 835.3 L1141.0 834.7 L1141.5 831.0 L1142.0 828.2 L1142.2 827.4 L1142.5 828.7 L1143.0 831.9 L1143.5 835.3 L1143.5 836.0 L1144.0 845.2 L1144.3 852.6 L1144.5 857.2 L1145.0 874.3 L1145.2 880.2 L1145.5 886.9 L1146.0 896.9 L1146.5 906.2 L1146.8 912.7 L1147.0 915.2 L1147.5 923.5 L1148.0 931.5 L1148.5 939.1 L1148.6 940.9 L1149.0 945.0 L1149.5 950.5 L1150.0 955.8 L1150.5 960.4 L1151.0 963.8 L1151.1 964.5 L1151.5 962.7 L1152.0 959.5 L1152.5 955.6 L1153.0 951.1 L1153.5 946.5 L1154.0 941.9 L1154.1 941.0 L1154.5 936.1 L1155.0 929.6 L1155.5 922.8 L1156.0 915.9 L1156.2 912.8 L1156.5 908.5 L1157.0 900.9 L1157.5 893.0 L1158.0 884.3 L1158.2 880.2 L1158.5 870.4 L1159.0 851.4 L1159.5 830.6 L1160.0 809.1 L1160.2 800.1 L1160.5 786.3 L1161.0 761.9 L1161.5 736.9 L1162.0 711.1 L1162.2 700.1 L1162.5 683.2 L1163.0 653.2 L1163.5 622.2 L1163.7 606.9 L1164.0 587.2 L1164.5 547.0 L1165.0 506.2 L1165.5 467.6 L1165.7 453.5 L1166.0 437.9 L1166.5 412.6 L1167.0 388.8 L1167.5 367.8 L1167.8 356.9 L1168.0 353.3 L1168.5 344.8 L1169.0 336.8 L1169.5 329.6 L1170.0 323.4 L1170.5 318.5 L1170.8 316.6 L1171.0 318.6 L1171.5 323.5 L1172.0 329.7 L1172.5 336.9 L1173.0 344.9 L1173.5 353.4 L1173.7 356.8 L1174.0 368.1 L1174.5 389.2 L1175.0 412.9 L1175.5 438.3 L1175.8 453.3 L1176.0 468.1 L1176.5 506.6 L1177.0 547.4 L1177.5 587.6 L1177.8 606.6 L1178.0 623.1 L1178.5 655.3 L1179.0 686.3 L1179.2 700.2 L1179.5 714.1 L1180.0 738.6 L1180.5 762.6 L1181.0 787.8 L1181.2 800.2 L1181.5 819.6 L1182.0 858.5 L1182.5 896.0 L1182.6 900.1 L1183.0 922.9 L1183.5 947.5 L1184.0 970.9 L1184.5 993.7 L1184.9 1009.9 L1185.0 1015.7 L1185.5 1036.1 L1186.0 1056.3 L1186.5 1075.8 L1187.0 1094.3 L1187.3 1105.5 L1187.5 1110.1 L1188.0 1123.4 L1188.5 1136.7 L1189.0 1149.4 L1189.5 1161.2 L1190.0 1171.5 L1190.5 1179.7 L1190.8 1183.1 L1191.0 1179.0 L1191.5 1166.9 L1192.0 1151.5 L1192.5 1134.0 L1193.0 1115.8 L1193.3 1105.5 L1193.5 1095.5 L1194.0 1070.0 L1194.5 1042.9 L1195.0 1015.0 L1195.1 1009.9 L1195.5 984.0 L1196.0 951.3 L1196.5 918.1 L1196.8 900.2 L1197.0 884.8 L1197.5 851.1 L1198.0 817.1 L1198.2 800.1 L1198.5 782.4 L1199.0 746.1 L1199.5 710.0 L1200.0 675.8 L1200.2 660.1 L1200.5 648.5 L1200.8 635.7 L1201.0 630.2 L1201.4 620.3 L1201.5 619.3 L1202.0 614.7 L1202.2 613.2 L1202.5 614.7 L1203.0 619.3 L1203.1 620.2 L1203.5 630.1 L1203.7 635.5 L1204.0 648.3 L1204.2 659.9 L1204.5 675.3 L1205.0 708.0 L1205.5 743.1 L1206.0 780.3 L1206.3 800.5 L1206.5 825.6 L1207.0 881.2 L1207.2 899.6 L1207.5 923.6 L1208.0 958.1 L1208.0 960.1 L1208.5 988.4 L1208.9 1012.0 L1209.0 1014.8 L1209.5 1034.5 L1210.0 1050.6 L1210.2 1054.5 L1210.5 1049.4 L1211.0 1037.4 L1211.5 1022.9 L1211.9 1011.9 L1212.0 1006.8 L1212.5 985.7 L1213.0 963.1 L1213.1 959.9 L1213.5 938.1 L1214.0 911.3 L1214.2 900.1 L1214.5 872.9 L1215.0 824.5 L1215.3 799.9 L1215.5 783.4 L1216.0 748.4 L1216.5 714.7 L1217.0 682.0 L1217.5 650.2 L1218.0 619.0 L1218.2 606.7 L1218.5 590.4 L1219.0 564.1 L1219.3 548.9 L1219.5 542.7 L1220.0 526.4 L1220.5 512.9 L1220.5 512.5 L1221.0 506.9 L1221.5 501.8 L1222.0 497.9 L1222.2 496.8 L1222.5 498.5 L1223.0 502.7 L1223.5 508.0 L1223.9 512.4 L1224.0 515.3 L1224.5 529.5 L1225.0 546.1 L1225.1 548.8 L1225.5 570.6 L1226.0 597.8 L1226.2 606.7 L1226.5 613.2 L1227.0 622.4 L1227.5 630.5 L1228.0 638.0 L1228.5 645.7 L1229.0 654.5 L1229.3 660.1 L1229.5 667.6 L1230.0 687.2 L1230.5 708.5 L1231.0 729.4 L1231.3 740.1 L1231.5 746.6 L1231.7 751.3 L1232.0 759.2 L1232.1 761.4 L1232.5 768.0 L1232.7 769.9 L1233.0 767.0 L1233.5 760.0 L1233.8 755.8 L1234.0 751.4 L1234.5 740.5 L1234.6 739.2 L1235.0 727.7 L1235.3 720.0 L1235.5 714.5 L1236.0 701.4 L1236.5 688.3 L1237.0 675.2 L1237.5 661.8 L1238.0 648.2 L1238.3 640.0 L1238.5 633.2 L1239.0 616.6 L1239.1 613.4 L1239.5 605.1 L1240.0 596.5 L1240.0 596.5 L1240.5 592.7 L1241.0 589.8 L1241.2 588.9 L1241.5 590.0 L1242.0 592.8 L1242.5 596.5 L1242.5 596.5 L1243.0 604.7 L1243.4 613.2 L1243.5 615.2 L1244.0 631.1 L1244.3 640.1 L1244.5 644.0 L1245.0 652.8 L1245.5 660.9 L1246.0 668.7 L1246.5 676.5 L1247.0 684.8 L1247.3 690.1 L1247.5 694.8 L1248.0 707.1 L1248.5 720.1 L1249.0 732.8 L1249.3 740.1 L1249.5 744.4 L1250.0 755.1 L1250.5 765.6 L1251.0 775.1 L1251.3 780.1 L1251.5 782.0 L1252.0 786.7 L1252.5 791.2 L1253.0 795.3 L1253.5 798.8 L1254.0 801.7 L1254.3 803.0 L1254.5 802.6 L1255.0 801.0 L1255.5 799.1 L1256.0 796.9 L1256.5 794.4 L1257.0 791.8 L1257.3 790.2 L1257.5 788.6 L1258.0 783.5 L1258.5 778.0 L1259.0 772.9 L1259.3 770.2 L1259.5 769.3 L1260.0 766.9 L1260.5 764.8 L1261.0 763.1 L1261.3 762.4 L1261.5 764.4 L1262.0 772.5 L1262.5 782.8 L1263.0 793.8 L1263.3 800.3 L1263.5 803.9 L1264.0 814.6 L1264.5 825.4 L1265.0 835.1 L1265.3 840.3 L1265.5 841.7 L1266.0 845.3 L1266.5 848.2 L1266.7 849.1 L1267.0 847.3 L1267.5 843.0 L1268.0 837.6 L1268.5 831.4 L1269.0 824.7 L1269.3 820.3 L1269.5 815.8 L1270.0 801.4 L1270.5 785.4 L1271.0 769.5 L1271.3 760.3 L1271.5 756.4 L1272.0 746.1 L1272.5 736.3 L1273.0 726.6 L1273.3 720.1 L1273.5 716.5 L1273.7 712.1 L1274.0 708.6 L1274.1 707.1 L1274.5 705.1 L1274.7 704.3 L1275.0 706.0 L1275.4 709.9 L1275.5 711.9 L1275.9 721.5 L1276.0 726.2 L1276.3 740.2 L1276.5 745.7 L1277.0 761.2 L1277.5 775.9 L1278.0 790.4 L1278.3 800.2 L1278.5 805.1 L1279.0 818.9 L1279.5 832.7 L1280.0 848.2 L1280.3 860.1 L1280.5 872.4 L1280.6 879.2 L1280.9 896.1 L1281.0 901.6 L1281.3 910.4 L1281.5 908.7 L1282.0 903.3 L1282.5 896.9 L1282.5 896.2 L1283.0 888.5 L1283.5 879.4 L1283.5 879.0 L1284.0 868.3 L1284.3 860.2 L1284.5 853.8 L1285.0 832.6 L1285.5 808.8 L1286.0 781.4 L1286.3 760.2 L1286.5 737.7 L1287.0 649.8 L1287.3 606.7 L1287.5 585.4 L1288.0 543.4 L1288.5 505.8 L1288.7 493.7 L1289.0 476.1 L1289.5 450.8 L1290.0 428.8 L1290.2 422.6 L1290.5 416.6 L1291.0 408.1 L1291.5 400.7 L1292.0 395.0 L1292.3 392.7 L1292.5 394.5 L1293.0 400.1 L1293.5 407.3 L1294.0 415.7 L1294.4 422.7 L1294.5 427.1 L1295.0 448.5 L1295.5 473.7 L1295.9 494.0 L1296.0 502.7 L1296.5 543.2 L1297.0 585.3 L1297.3 607.0 L1297.5 620.0 L1298.0 647.8 L1298.5 674.4 L1299.0 700.8 L1299.3 719.9 L1299.5 728.7 L1300.0 758.3 L1300.5 788.3 L1301.0 818.6 L1301.4 840.5 L1301.5 849.5 L1302.0 882.2 L1302.3 899.8 L1302.5 911.6 L1303.0 937.5 L1303.3 951.9 L1303.5 961.2 L1304.0 982.7 L1304.4 997.2 L1304.5 1000.9 L1305.0 1015.3 L1305.5 1027.9 L1305.9 1034.5 L1306.0 1034.0 L1306.5 1030.7 L1307.0 1026.3 L1307.5 1021.4 L1307.7 1019.1 L1308.0 1015.8 L1308.5 1009.0 L1309.0 1001.8 L1309.1 1000.9 L1309.5 993.7 L1310.0 985.1 L1310.3 980.1 L1310.5 976.4 L1311.0 967.2 L1311.5 958.0 L1312.0 949.4 L1312.3 945.1 L1312.5 943.2 L1313.0 938.9 L1313.5 934.9 L1314.0 931.6 L1314.3 930.0 L1314.5 929.8 L1315.0 929.1 L1315.5 928.6 L1316.0 928.1 L1316.5 927.7 L1317.0 927.3 L1317.3 927.0 L1317.5 926.9 L1318.0 926.6 L1318.5 926.3 L1319.0 926.0 L1319.5 925.7 L1320.0 925.3 L1320.3 925.0 L1320.5 923.3 L1321.0 916.8 L1321.3 912.1 L1321.5 906.4 L1322.0 889.0 L1322.1 885.1 L1322.5 861.3 L1323.0 827.4 L1323.4 800.1 L1323.5 789.1 L1324.0 739.8 L1324.5 687.6 L1325.0 636.3 L1325.3 606.7 L1325.5 591.9 L1326.0 554.3 L1326.4 525.0 L1326.5 521.6 L1327.0 498.1 L1327.5 477.9 L1327.6 473.5 L1328.0 467.5 L1328.5 460.1 L1329.0 454.3 L1329.3 451.8 L1329.5 452.9 L1330.0 456.8 L1330.5 462.0 L1331.0 468.1 L1331.4 473.5 L1331.5 475.8 L1332.0 491.1 L1332.5 509.1 L1332.9 525.3 L1333.0 529.5 L1333.5 559.7 L1334.0 590.7 L1334.3 607.0 L1334.5 611.2 L1335.0 621.2 L1335.5 630.1 L1336.0 639.7 L1336.0 640.2 L1336.5 653.7 L1337.0 668.8 L1337.5 684.3 L1338.0 699.6 L1338.0 700.2 L1338.5 714.8 L1339.0 730.3 L1339.5 745.4 L1340.0 759.6 L1340.0 760.2 L1340.5 770.5 L1341.0 780.7 L1341.5 790.6 L1342.0 800.2 L1342.5 809.9 L1343.0 819.8 L1343.0 820.2 L1343.5 830.3 L1344.0 841.5 L1344.5 853.2 L1345.0 865.1 L1345.5 877.1 L1346.0 888.9 L1346.5 900.4 L1347.0 911.4 L1347.5 921.6 L1348.0 931.0 L1348.5 939.2 L1349.0 946.1 L1349.3 949.8 L1349.5 949.7 L1350.0 949.1 L1350.5 948.3 L1351.0 947.5 L1351.5 946.5 L1352.0 945.6 L1352.3 945.0 L1352.5 944.8 L1353.0 943.9 L1353.5 943.0 L1354.0 942.1 L1354.5 941.2 L1355.0 940.3 L1355.5 939.4 L1356.0 938.6 L1356.3 938.0 L1356.5 937.8 L1357.0 937.2 L1357.5 936.6 L1358.0 936.1 L1358.5 935.6 L1359.0 935.0 L1359.5 934.5 L1360.0 933.9 L1360.5 933.2 L1361.0 932.6 L1361.3 932.0 L1361.5 931.6 L1362.0 929.9 L1362.5 928.1 L1363.0 926.1 L1363.5 924.0 L1364.0 921.7 L1364.3 920.0 L1364.5 918.8 L1365.0 914.3 L1365.5 909.4 L1366.0 904.0 L1366.3 900.0 L1366.5 897.3 L1367.0 887.5 L1367.5 876.5 L1368.0 864.9 L1368.5 853.2 L1369.0 841.7 L1369.5 830.8 L1370.0 821.2 L1370.0 820.3 L1370.5 815.2 L1371.0 809.8 L1371.5 804.8 L1372.0 799.9 L1372.5 795.3 L1373.0 790.7 L1373.1 790.2 L1373.5 787.1 L1374.0 783.9 L1374.5 780.9 L1375.0 777.7 L1375.5 774.4 L1376.0 770.7 L1376.1 770.2 L1376.5 764.3 L1377.0 756.7 L1377.5 748.8 L1378.0 741.1 L1378.1 740.2 L1378.5 734.3 L1379.0 727.8 L1379.5 721.3 L1380.0 714.9 L1380.5 708.2 L1381.0 701.1 L1381.1 700.2 L1381.5 691.7 L1382.0 681.1 L1382.5 670.7 L1383.0 661.2 L1383.1 660.1 L1383.5 655.2 L1384.0 649.8 L1384.5 644.9 L1385.0 640.6 L1385.1 640.1 L1385.5 638.0 L1386.0 635.9 L1386.5 633.9 L1387.0 632.3 L1387.1 632.1 L1387.5 631.5 L1388.0 630.8 L1388.5 630.2 L1389.0 629.8 L1389.5 629.4 L1389.7 629.3 L1390.0 629.9 L1390.5 631.2 L1391.0 632.8 L1391.5 634.5 L1392.0 636.4 L1392.5 638.2 L1393.0 639.9 L1393.1 640.1 L1393.5 641.2 L1394.0 642.4 L1394.5 643.5 L1395.0 644.7 L1395.5 645.8 L1396.0 647.1 L1396.5 648.4 L1397.0 649.8 L1397.1 650.1 L1397.5 652.4 L1398.0 655.6 L1398.5 659.0 L1399.0 662.5 L1399.5 666.1 L1400.0 669.6 L1400.1 670.1 L1400.5 672.9 L1401.0 676.1 L1401.5 679.4 L1402.0 682.7 L1402.5 686.1 L1403.0 689.5 L1403.1 690.2 L1403.5 693.6 L1404.0 697.9 L1404.5 702.4 L1405.0 706.8 L1405.5 711.2 L1406.0 715.4 L1406.1 716.2 L1406.5 719.0 L1407.0 722.4 L1407.5 725.6 L1408.0 728.9 L1408.5 732.2 L1409.0 735.5 L1409.1 736.2 L1409.5 739.4 L1410.0 743.6 L1410.5 747.9 L1411.0 752.1 L1411.5 756.0 L1412.0 759.6 L1412.1 760.2 L1412.5 761.8 L1413.0 763.7 L1413.5 765.4 L1414.0 767.0 L1414.5 768.6 L1415.0 770.0 L1415.1 770.2 L1415.5 770.8 L1416.0 771.6 L1416.5 772.2 L1417.0 772.9 L1417.5 773.5 L1418.0 774.1 L1418.1 774.2 L1418.5 774.6 L1419.0 775.1 L1419.5 775.6 L1420.0 776.0 L1420.5 776.5 L1421.0 777.0 L1421.5 777.5 L1422.0 778.1 L1422.1 778.2 L1422.5 779.1 L1423.0 780.3 L1423.5 781.6 L1424.0 783.0 L1424.5 784.4 L1425.0 785.9 L1425.1 786.2 L1425.5 787.7 L1426.0 789.7 L1426.5 791.7 L1427.0 793.8 L1427.5 795.9 L1428.0 797.8 L1428.1 798.2 L1428.5 799.5 L1429.0 801.0 L1429.5 802.5 L1430.0 803.9 L1430.1 804.2 L1430.5 805.3 L1431.0 806.7 L1431.5 808.0 L1432.0 808.9 L1432.1 809.1 L1432.5 808.7 L1433.0 808.1 L1433.5 807.3 L1434.0 806.5 L1434.5 805.5 L1435.0 804.5 L1435.1 804.3 L1435.5 802.6 L1436.0 799.9 L1436.5 797.1 L1437.0 794.7 L1437.1 794.3 L1437.5 793.5 L1438.0 792.5 L1438.5 791.7 L1439.0 791.0 L1439.5 790.5 L1439.5 790.4 L1440.0 791.3 L1440.5 792.6 L1441.0 794.1 L1441.5 795.6 L1442.0 796.9 L1442.1 797.3 L1442.5 797.9 L1443.0 798.9 L1443.5 799.7 L1444.0 800.5 L1444.5 801.0 L1444.5 801.1 L1445.0 800.5 L1445.5 799.8 L1446.0 798.8 L1446.5 797.7 L1447.0 796.6 L1447.1 796.3 L1447.5 793.9 L1448.0 790.1 L1448.5 785.8 L1449.0 781.4 L1449.1 780.3 L1449.5 776.5 L1450.0 771.1 L1450.5 765.8 L1451.0 761.2 L1451.1 760.2 L1451.5 759.1 L1452.0 757.7 L1452.5 756.5 L1453.0 755.5 L1453.1 755.2 L1453.5 754.8 L1454.0 754.2 L1454.5 753.7 L1455.0 753.2 L1455.5 752.8 L1456.0 752.5 L1456.1 752.4 L1456.5 752.6 L1457.0 753.0 L1457.5 753.4 L1458.0 753.9 L1458.5 754.5 L1459.0 755.0 L1459.5 755.6 L1460.0 756.1 L1460.2 756.2 L1460.5 756.5 L1461.0 756.9 L1461.5 757.3 L1462.0 757.7 L1462.5 758.1 L1463.0 758.5 L1463.5 758.8 L1464.0 759.1 L1464.2 759.2 L1464.5 759.3 L1465.0 759.4 L1465.5 759.6 L1466.0 759.7 L1466.5 759.8 L1467.0 759.9 L1467.5 760.0 L1468.0 760.2 L1468.2 760.2 L1468.5 760.6 L1469.0 761.2 L1469.5 761.9 L1470.0 762.6 L1470.5 763.4 L1471.0 764.2 L1471.5 765.1 L1472.0 765.9 L1472.2 766.2 L1472.5 767.0 L1473.0 768.2 L1473.5 769.4 L1474.0 770.7 L1474.5 772.0 L1475.0 773.3 L1475.5 774.6 L1476.0 775.8 L1476.2 776.2 L1476.5 776.9 L1477.0 778.0 L1477.5 779.0 L1478.0 780.0 L1478.5 781.0 L1479.0 782.0 L1479.5 783.0 L1480.0 783.9 L1480.2 784.2 L1480.5 784.8 L1481.0 785.5 L1481.5 786.2 L1482.0 787.0 L1482.5 787.7 L1483.0 788.4 L1483.5 789.2 L1484.0 790.0 L1484.2 790.2 L1484.5 791.0 L1485.0 792.1 L1485.5 793.3 L1486.0 794.5 L1486.5 795.8 L1487.0 797.1 L1487.5 798.4 L1488.0 799.8 L1488.2 800.3 L1488.5 801.4 L1489.0 803.3 L1489.5 805.3 L1490.0 807.4 L1490.5 809.4 L1491.0 811.5 L1491.2 812.3 L1491.5 813.7 L1492.0 816.1 L1492.5 818.5 L1493.0 820.9 L1493.5 823.3 L1494.0 825.5 L1494.2 826.3 L1494.5 827.3 L1495.0 829.0 L1495.5 830.6 L1496.0 832.2 L1496.5 833.6 L1497.0 834.9 L1497.2 835.3 L1497.5 835.7 L1498.0 836.2 L1498.5 836.8 L1499.0 837.3 L1499.5 837.7 L1500.0 838.0 L1500.2 838.1 L1500.5 837.9 L1501.0 837.4 L1501.5 836.8 L1502.0 836.1 L1502.5 835.4 L1503.0 834.6 L1503.2 834.3 L1503.5 833.2 L1504.0 831.2 L1504.5 828.9 L1505.0 826.4 L1505.5 823.8 L1506.0 821.3 L1506.2 820.3 L1506.5 818.4 L1507.0 815.2 L1507.5 811.9 L1508.0 808.5 L1508.5 805.1 L1509.0 801.6 L1509.2 800.2 L1509.5 797.8 L1510.0 793.7 L1510.5 789.5 L1511.0 785.6 L1511.2 784.2 L1511.5 782.8 L1512.0 780.5 L1512.5 778.3 L1513.0 776.7 L1513.2 776.2 L1513.5 776.2 L1514.0 776.2 L1514.5 776.2 L1515.0 776.2 L1515.5 776.2 L1516.0 776.2 L1516.2 776.2 L1516.5 776.5 L1517.0 777.3 L1517.5 778.1 L1518.0 778.8 L1518.2 779.0 L1518.5 778.6 L1519.0 777.5 L1519.5 776.1 L1520.0 774.7 L1520.2 774.2 L1520.5 773.6 L1521.0 772.7 L1521.5 771.7 L1522.0 770.8 L1522.5 769.8 L1523.0 768.7 L1523.2 768.2 L1523.5 767.0 L1524.0 764.6 L1524.5 762.0 L1525.0 760.0 L1525.2 759.4 L1525.5 759.7 L1526.0 760.4 L1526.5 761.3 L1527.0 762.0 L1527.2 762.2 L1527.5 762.2 L1528.0 762.2 L1528.5 762.2 L1529.0 762.2 L1529.2 762.2 L1529.5 760.3 L1530.0 755.5 L1530.5 749.5 L1531.0 743.0 L1531.2 740.2 L1531.5 735.1 L1532.0 725.2 L1532.5 714.6 L1533.0 704.4 L1533.2 700.2 L1533.5 695.7 L1534.0 687.7 L1534.5 680.1 L1535.0 673.1 L1535.2 670.2 L1535.5 667.6 L1536.0 663.1 L1536.5 659.1 L1537.0 655.5 L1537.2 654.1 L1537.5 653.3 L1538.0 651.9 L1538.5 650.8 L1538.8 650.3 L1539.0 651.0 L1539.5 654.1 L1540.0 658.1 L1540.2 660.1 L1540.5 664.6 L1541.0 674.3 L1541.5 685.1 L1542.0 695.7 L1542.2 700.1 L1542.5 704.5 L1543.0 712.4 L1543.5 720.0 L1544.0 727.1 L1544.2 730.1 L1544.5 732.6 L1545.0 737.3 L1545.5 741.6 L1546.0 744.9 L1546.2 746.0 L1546.5 745.3 L1547.0 743.4 L1547.5 741.0 L1548.0 738.3 L1548.5 735.6 L1549.0 733.2 L1549.2 732.2 L1549.5 731.4 L1550.0 729.8 L1550.5 728.4 L1551.0 727.0 L1551.5 725.9 L1551.8 725.4 L1552.0 725.6 L1552.5 726.8 L1553.0 728.3 L1553.5 729.9 L1554.0 731.5 L1554.2 732.2 L1554.5 732.7 L1555.0 733.9 L1555.5 735.0 L1556.0 736.0 L1556.5 737.0 L1557.0 737.7 L1557.2 738.0 L1557.5 737.4 L1558.0 735.8 L1558.5 733.8 L1559.0 731.6 L1559.5 729.3 L1560.0 727.2 L1560.2 726.2 L1560.5 725.3 L1561.0 723.3 L1561.5 721.4 L1562.0 719.6 L1562.5 718.1 L1562.8 717.4 L1563.0 717.8 L1563.5 719.7 L1564.0 722.3 L1564.5 725.2 L1565.0 728.5 L1565.3 730.2 L1565.5 733.2 L1566.0 740.4 L1566.5 748.4 L1567.0 756.3 L1567.3 760.2 L1567.5 763.5 L1568.0 770.4 L1568.5 777.2 L1569.0 783.4 L1569.3 786.2 L1569.5 787.9 L1570.0 791.3 L1570.5 794.5 L1571.0 797.5 L1571.5 800.1 L1572.0 802.2 L1572.3 803.0 L1572.5 802.5 L1573.0 800.8 L1573.5 798.7 L1574.0 796.3 L1574.5 793.9 L1575.0 791.4 L1575.3 790.2 L1575.5 789.2 L1576.0 786.9 L1576.5 784.6 L1577.0 782.2 L1577.5 779.9 L1578.0 777.5 L1578.3 776.2 L1578.5 775.0 L1579.0 772.2 L1579.5 769.3 L1580.0 766.5 L1580.5 763.8 L1581.0 761.4 L1581.3 760.2 L1581.5 759.7 L1582.0 758.7 L1582.5 757.6 L1583.0 756.7 L1583.5 755.9 L1584.0 755.1 L1584.5 754.6 L1584.7 754.4 L1585.0 755.1 L1585.5 756.7 L1586.0 758.6 L1586.5 760.7 L1587.0 763.0 L1587.3 764.2 L1587.5 765.7 L1588.0 769.5 L1588.5 773.6 L1589.0 777.8 L1589.3 780.2 L1589.5 782.3 L1590.0 787.4 L1590.5 792.6 L1591.0 797.6 L1591.3 800.2 L1591.5 801.8 L1592.0 805.4 L1592.5 808.8 L1593.0 812.1 L1593.5 815.4 L1594.0 818.5 L1594.3 820.3 L1594.5 821.4 L1595.0 824.0 L1595.5 826.5 L1596.0 829.0 L1596.3 830.3 L1596.5 831.0 L1597.0 832.7 L1597.5 834.3 L1598.0 835.8 L1598.5 837.4 L1599.0 839.2 L1599.3 840.3 L1599.5 841.6 L1600.0 845.1 L1600.5 848.9 L1601.0 852.5 L1601.3 854.3 L1601.5 855.1 L1602.0 856.8 L1602.5 858.3 L1602.9 859.1 L1603.0 858.9 L1603.5 857.6 L1604.0 855.9 L1604.5 853.9 L1605.0 851.7 L1605.3 850.3 L1605.5 848.7 L1606.0 844.1 L1606.5 839.0 L1607.0 833.6 L1607.3 830.3 L1607.5 827.5 L1608.0 820.2 L1608.5 812.6 L1609.0 804.8 L1609.3 800.3 L1609.5 797.2 L1610.0 789.5 L1610.5 781.8 L1611.0 774.4 L1611.3 770.3 L1611.5 768.1 L1612.0 762.9 L1612.5 757.9 L1613.0 753.1 L1613.3 750.2 L1613.5 748.5 L1614.0 744.2 L1614.5 740.0 L1615.0 736.2 L1615.3 734.2 L1615.5 733.5 L1616.0 731.7 L1616.5 730.2 L1617.0 728.9 L1617.3 728.4 L1617.5 728.6 L1618.0 729.5 L1618.5 730.6 L1619.0 731.6 L1619.3 732.0 L1619.5 731.8 L1620.0 731.0 L1620.5 730.0 L1621.0 728.9 L1621.3 728.2 L1621.5 727.6 L1622.0 726.2 L1622.5 724.7 L1623.0 723.1 L1623.5 721.3 L1624.0 719.4 L1624.3 718.1 L1624.5 716.8 L1625.0 712.6 L1625.5 707.8 L1626.0 703.0 L1626.3 700.1 L1626.5 698.6 L1627.0 694.3 L1627.5 690.0 L1628.0 686.1 L1628.3 684.1 L1628.5 683.7 L1629.0 682.5 L1629.5 681.5 L1629.7 681.2 L1630.0 681.9 L1630.5 683.9 L1631.0 686.3 L1631.1 686.7 L1631.5 692.8 L1632.0 701.7 L1632.5 710.6 L1632.7 713.4 L1633.0 717.9 L1633.5 724.6 L1634.0 731.2 L1634.5 737.5 L1635.0 743.2 L1635.3 746.8 L1635.5 747.8 L1636.0 751.0 L1636.5 754.0 L1637.0 756.4 L1637.3 757.5 L1637.5 757.4 L1638.0 756.9 L1638.5 756.2 L1639.0 755.4 L1639.5 754.5 L1640.0 753.5 L1640.0 753.5 L1640.5 751.2 L1641.0 748.2 L1641.5 745.3 L1642.0 742.9 L1642.0 742.8 L1642.5 741.9 L1643.0 741.1 L1643.5 740.4 L1644.0 739.8 L1644.4 739.4 L1644.5 739.6 L1645.0 741.3 L1645.5 743.8 L1646.0 746.7 L1646.0 746.9 L1646.5 753.2 L1647.0 761.2 L1647.4 766.8 L1647.5 768.7 L1648.0 775.5 L1648.5 782.1 L1649.0 788.7 L1649.4 793.5 L1649.5 795.4 L1650.0 802.3 L1650.5 809.2 L1651.0 815.8 L1651.4 820.3 L1651.5 821.4 L1652.0 825.9 L1652.5 830.2 L1653.0 834.1 L1653.5 837.1 L1653.8 838.3 L1654.0 837.3 L1654.5 834.0 L1655.0 829.9 L1655.5 825.3 L1656.0 820.6 L1656.0 820.3 L1656.5 814.6 L1657.0 807.9 L1657.5 801.0 L1658.0 794.1 L1658.0 793.6 L1658.5 787.4 L1659.0 780.6 L1659.5 773.9 L1660.0 767.4 L1660.0 766.8 L1660.5 761.9 L1661.0 756.6 L1661.5 751.6 L1662.0 747.2 L1662.0 746.8 L1662.5 744.8 L1663.0 742.8 L1663.5 741.0 L1664.0 739.4 L1664.5 738.1 L1664.5 738.1 L1665.0 737.6 L1665.5 737.1 L1666.0 736.7 L1666.5 736.4 L1667.0 736.1 L1667.1 736.1 L1667.5 736.5 L1668.0 737.2 L1668.5 738.1 L1669.0 739.1 L1669.5 740.2 L1670.0 741.3 L1670.1 741.5 L1670.5 743.1 L1671.0 745.2 L1671.5 747.5 L1672.0 749.9 L1672.5 752.3 L1672.7 753.5 L1673.0 755.0 L1673.5 758.0 L1674.0 761.0 L1674.5 764.1 L1675.0 767.1 L1675.4 769.5 L1675.5 770.0 L1676.0 772.6 L1676.5 775.3 L1677.0 777.8 L1677.5 780.3 L1678.0 782.5 L1678.1 782.9 L1678.5 784.2 L1679.0 785.9 L1679.5 787.4 L1680.0 788.8 L1680.5 789.9 L1680.8 790.3 L1681.0 790.0 L1681.5 789.3 L1682.0 788.4 L1682.5 787.4 L1682.8 786.9 L1683.0 785.6 L1683.5 782.4 L1684.0 778.8 L1684.5 775.2 L1684.8 773.5 L1685.0 772.1 L1685.5 769.3 L1686.0 766.5 L1686.5 764.0 L1686.8 762.8 L1687.0 762.1 L1687.5 760.8 L1688.0 759.5 L1688.5 758.5 L1688.8 758.2 L1689.0 758.1 L1689.5 758.1 L1690.0 758.1 L1690.5 758.1 L1690.8 758.1 L1691.0 758.5 L1691.5 759.8 L1692.0 761.5 L1692.5 763.3 L1692.8 764.1 L1693.0 765.2 L1693.5 767.6 L1694.0 770.1 L1694.5 772.2 L1694.8 772.9 L1695.0 772.8 L1695.5 772.4 L1696.0 771.9 L1696.5 771.2 L1696.8 770.8 L1697.0 769.5 L1697.5 765.5 L1698.0 761.1 L1698.1 760.1 L1698.5 756.6 L1699.0 751.9 L1699.4 748.2 L1699.5 747.8 L1700.0 745.0 L1700.5 742.4 L1701.0 739.9 L1701.4 737.5 L1701.5 737.1 L1702.0 733.6 L1702.5 729.9 L1703.0 726.5 L1703.5 724.1 L1703.5 724.0 L1704.0 723.3 L1704.5 722.6 L1705.0 722.0 L1705.5 721.6 L1705.8 721.4 L1706.0 721.5 L1706.5 721.9 L1707.0 722.5 L1707.5 723.2 L1708.0 723.9 L1708.1 724.1 L1708.5 724.9 L1709.0 726.2 L1709.5 727.5 L1710.0 729.0 L1710.1 729.5 L1710.5 731.6 L1711.0 734.8 L1711.5 738.4 L1711.7 740.1 L1712.0 743.0 L1712.5 748.6 L1713.0 754.6 L1713.5 760.1 L1713.5 760.6 L1714.0 767.2 L1714.5 773.9 L1715.0 780.6 L1715.5 786.9 L1715.5 787.3 L1716.0 794.0 L1716.5 800.8 L1717.0 807.5 L1717.5 813.6 L1717.5 813.9 L1718.0 819.8 L1718.5 825.3 L1718.8 828.3 L1719.0 829.4 L1719.5 832.1 L1720.0 834.5 L1720.5 836.2 L1720.5 836.3 L1721.0 834.8 L1721.5 832.4 L1722.0 829.5 L1722.4 826.9 L1722.5 825.9 L1723.0 818.7 L1723.5 810.4 L1724.0 802.3 L1724.2 800.2 L1724.5 796.3 L1725.0 790.9 L1725.5 785.8 L1726.0 781.4 L1726.2 780.2 L1726.5 778.8 L1727.0 776.9 L1727.5 775.2 L1728.0 773.9 L1728.2 773.5 L1728.5 773.3 L1729.0 773.0 L1729.5 772.8 L1729.5 772.8 L1730.0 774.3 L1730.5 776.5 L1731.0 779.1 L1731.2 780.2 L1731.5 782.3 L1732.0 786.6 L1732.5 791.0 L1732.8 793.6 L1733.0 794.4 L1733.5 796.9 L1734.0 799.0 L1734.4 800.3 L1734.5 800.1 L1735.0 797.9 L1735.5 794.9 L1736.0 791.8 L1736.2 790.8 L1736.5 789.1 L1737.0 786.5 L1737.5 783.8 L1738.0 781.1 L1738.2 780.2 L1738.5 778.1 L1739.0 775.0 L1739.5 771.8 L1740.0 768.2 L1740.2 766.9 L1740.5 762.2 L1741.0 754.0 L1741.5 746.9 L1741.5 746.8 L1742.0 743.8 L1742.5 741.1 L1743.0 738.9 L1743.2 738.1 L1743.5 738.0 L1744.0 737.8 L1744.5 737.6 L1745.0 737.5 L1745.5 737.4 L1745.5 737.4 L1746.0 737.8 L1746.5 738.5 L1747.0 739.3 L1747.5 740.1 L1748.0 741.1 L1748.2 741.5 L1748.5 743.0 L1749.0 745.9 L1749.5 749.2 L1750.0 752.4 L1750.2 753.5 L1750.5 755.1 L1751.0 757.6 L1751.5 760.1 L1752.0 762.2 L1752.2 762.8 L1752.5 763.3 L1753.0 764.0 L1753.5 764.6 L1753.9 764.9 L1754.0 764.8 L1754.5 763.9 L1755.0 762.7 L1755.5 761.2 L1756.0 759.5 L1756.2 758.8 L1756.5 756.2 L1757.0 751.0 L1757.5 745.1 L1757.9 740.2 L1758.0 739.3 L1758.5 732.9 L1759.0 726.4 L1759.5 720.5 L1759.5 720.1 L1760.0 716.6 L1760.5 713.0 L1761.0 710.1 L1761.1 709.4 L1761.5 708.8 L1762.0 708.0 L1762.5 707.4 L1762.6 707.3 L1763.0 708.1 L1763.5 709.5 L1764.0 711.3 L1764.2 712.1 L1764.5 714.7 L1765.0 720.2 L1765.5 726.2 L1765.5 726.8 L1766.0 733.5 L1766.5 741.3 L1766.9 746.8 L1767.0 748.1 L1767.5 753.3 L1768.0 758.2 L1768.5 763.1 L1768.9 766.8 L1769.0 768.0 L1769.5 773.4 L1770.0 778.4 L1770.2 780.2 L1770.5 781.2 L1771.0 782.9 L1771.5 784.4 L1772.0 785.8 L1772.5 787.1 L1772.9 788.2 L1773.0 788.5 L1773.5 789.8 L1774.0 791.1 L1774.5 792.4 L1774.9 793.5 L1775.0 793.9 L1775.5 795.8 L1776.0 797.7 L1776.5 799.8 L1776.9 801.6 L1777.0 802.2 L1777.5 805.4 L1778.0 808.9 L1778.5 812.3 L1778.9 814.9 L1779.0 815.5 L1779.5 818.4 L1780.0 821.2 L1780.5 823.6 L1780.9 825.0 L1781.0 825.0 L1781.5 825.0 L1782.0 825.0 L1782.5 825.0 L1783.0 824.9 L1783.5 824.9 L1783.6 824.9 L1784.0 824.6 L1784.5 823.9 L1785.0 823.2 L1785.5 822.5 L1786.0 821.9 L1786.2 821.6 L1786.5 821.4 L1787.0 821.1 L1787.5 820.8 L1788.0 820.5 L1788.5 820.3 L1788.9 820.2 L1789.0 820.2 L1789.5 820.6 L1790.0 821.0 L1790.5 821.6 L1791.0 822.2 L1791.5 822.8 L1791.6 822.9 L1792.0 823.8 L1792.5 825.1 L1793.0 826.4 L1793.5 827.4 L1793.6 827.6 L1794.0 828.0 L1794.5 828.4 L1795.0 828.7 L1795.5 829.0 L1795.6 829.0 L1796.0 828.7 L1796.5 828.2 L1797.0 827.5 L1797.5 826.8 L1798.0 826.0 L1798.3 825.6 L1798.5 824.8 L1799.0 823.1 L1799.5 821.0 L1800.0 818.8 L1800.3 817.6 L1800.5 815.9 L1801.0 812.0 L1801.5 807.7 L1802.0 803.0 L1802.3 800.2 L1802.5 796.1 L1803.0 785.8 L1803.5 775.5 L1803.6 773.6 L1804.0 767.8 L1804.5 761.1 L1805.0 754.6 L1805.5 748.2 L1805.6 746.8 L1806.0 741.9 L1806.5 735.7 L1806.9 730.8 L1807.0 730.4 L1807.5 726.9 L1808.0 723.9 L1808.3 722.8 L1808.5 722.6 L1809.0 722.4 L1809.5 722.2 L1810.0 722.0 L1810.0 722.0 L1810.5 723.6 L1811.0 726.0 L1811.5 728.8 L1811.6 729.5 L1812.0 733.6 L1812.5 740.0 L1813.0 745.4 L1813.0 745.9 L1813.5 750.3 L1814.0 754.6 L1814.5 758.5 L1815.0 761.5 L1815.0 761.6 L1815.5 763.1 L1816.0 764.4 L1816.5 765.5 L1817.0 766.2 L1817.0 766.2 L1817.5 765.1 L1818.0 763.7 L1818.5 762.0 L1819.0 760.2 L1819.0 759.8 L1819.5 753.0 L1820.0 744.8 L1820.3 740.1 L1820.5 737.0 L1821.0 728.8 L1821.5 721.6 L1821.6 720.1 L1822.0 718.3 L1822.5 716.2 L1823.0 714.5 L1823.4 713.4 L1823.5 713.3 L1824.0 712.9 L1824.5 712.5 L1825.0 712.2 L1825.4 712.0 L1825.5 712.3 L1826.0 713.8 L1826.5 715.9 L1827.0 718.3 L1827.4 720.1 L1827.5 721.1 L1828.0 725.7 L1828.5 730.7 L1829.0 734.8 L1829.0 734.9 L1829.5 736.9 L1830.0 738.9 L1830.5 740.4 L1831.0 741.5 L1831.0 741.5 L1831.5 740.8 L1832.0 739.9 L1832.5 738.7 L1833.0 737.5 L1833.0 737.4 L1833.5 733.7 L1834.0 729.2 L1834.5 724.5 L1835.0 720.1 L1835.0 720.0 L1835.5 716.1 L1836.0 712.1 L1836.5 708.4 L1837.0 705.4 L1837.0 705.4 L1837.5 703.9 L1838.0 702.6 L1838.5 701.6 L1838.7 701.3 L1839.0 701.8 L1839.5 702.9 L1840.0 704.3 L1840.5 705.9 L1840.7 706.7 L1841.0 709.3 L1841.5 715.3 L1842.0 722.1 L1842.3 726.7 L1842.5 729.8 L1843.0 739.8 L1843.5 750.1 L1843.7 753.5 L1844.0 760.3 L1844.5 770.5 L1845.0 780.1 L1845.5 787.5 L1846.0 794.6 L1846.5 801.1 L1847.0 806.8 L1847.0 806.9 L1847.5 809.9 L1848.0 812.8 L1848.5 815.2 L1849.0 817.0 L1849.0 817.0 L1849.5 816.7 L1850.0 816.2 L1850.5 815.6 L1851.0 814.9 L1851.0 814.9 L1851.5 812.0 L1852.0 808.0 L1852.5 803.9 L1853.0 800.3 L1853.0 800.2 L1853.5 798.4 L1854.0 796.6 L1854.5 795.0 L1855.0 793.6 L1855.0 793.5 L1855.5 792.8 L1856.0 792.1 L1856.5 791.5 L1857.0 790.9 L1857.0 790.9 L1857.5 790.4 L1858.0 789.9 L1858.5 789.4 L1859.0 788.9 L1859.5 788.4 L1859.7 788.2 L1860.0 787.7 L1860.5 786.8 L1861.0 785.8 L1861.5 784.8 L1862.0 783.7 L1862.4 782.9 L1862.5 782.4 L1863.0 780.9 L1863.5 779.2 L1864.0 777.5 L1864.5 775.6 L1865.0 773.7 L1865.0 773.5 L1865.5 770.4 L1866.0 766.6 L1866.5 762.6 L1867.0 758.7 L1867.5 754.9 L1867.7 753.5 L1868.0 751.9 L1868.5 749.1 L1869.0 746.5 L1869.5 743.9 L1870.0 741.7 L1870.4 740.1 L1870.5 739.8 L1871.0 738.8 L1871.5 737.9 L1872.0 737.0 L1872.5 736.2 L1873.0 735.3 L1873.3 734.8"/>
</g>
<g font-family="'Liberation Serif', serif" font-size="45.2" fill="#262626">
<text x="207.4" y="51.4" text-anchor="end">180</text>
<text x="207.4" y="172.9" text-anchor="end">150</text>
<text x="207.4" y="374.4" text-anchor="end">100</text>
<text x="207.4" y="576.9" text-anchor="end">50</text>
<text x="207.4" y="778.4" text-anchor="end">0</text>
<text x="207.4" y="980.9" text-anchor="end"><tspan font-family="'DejaVu Sans', sans-serif" font-weight="200" font-size="44" letter-spacing="-2.1" dy="2.6">−</tspan><tspan dy="-2.6">50</tspan></text>
<text x="207.4" y="1182.9" text-anchor="end"><tspan font-family="'DejaVu Sans', sans-serif" font-weight="200" font-size="44" letter-spacing="-2.1" dy="2.6">−</tspan><tspan dy="-2.6">100</tspan></text>
<text x="207.4" y="1384.4" text-anchor="end"><tspan font-family="'DejaVu Sans', sans-serif" font-weight="200" font-size="44" letter-spacing="-2.1" dy="2.6">−</tspan><tspan dy="-2.6">150</tspan></text>
<text x="226.0" y="1429.7" text-anchor="middle">0</text>
<text x="383.0" y="1429.7" text-anchor="middle">2</text>
<text x="540.0" y="1429.7" text-anchor="middle">4</text>
<text x="697.0" y="1429.7" text-anchor="middle">6</text>
<text x="854.0" y="1429.7" text-anchor="middle">8</text>
<text x="1011.0" y="1429.7" text-anchor="middle">10</text>
<text x="1168.0" y="1429.7" text-anchor="middle">12</text>
<text x="1325.0" y="1429.7" text-anchor="middle">14</text>
<text x="1482.0" y="1429.7" text-anchor="middle">16</text>
<text x="1639.0" y="1429.7" text-anchor="middle">18</text>
<text x="1796.0" y="1429.7" text-anchor="middle">20</text>
<text x="1874.5" y="1429.7" text-anchor="middle">21</text>
</g>
<g font-family="'Liberation Sans', sans-serif" font-size="50" fill="#262626">
<text transform="translate(1050.3 1501.7) scale(1.012 1.03)" text-anchor="middle">Time/s</text>
<text transform="translate(80.4 707.4) rotate(-90) scale(0.994 1.03)" text-anchor="middle">Power/kW</text>
</g>
<rect x="603.5" y="77.5" width="1233.9" height="128.9" fill="#ffffff" stroke="#262626" stroke-width="2.2"/>
<g fill="none" stroke-width="4.7">
<line x1="617.3" y1="112.5" x2="753.7" y2="112.5" stroke="#169cff"/>
<line x1="617.3" y1="171.2" x2="753.7" y2="171.2" stroke="#ff0000"/>
</g>
<g font-family="'Liberation Sans', sans-serif" font-size="43.6" font-weight="bold" fill="#000000">
<text transform="translate(763.1 131.1) scale(1.0423 1)">secondary power allocation of the lithium battery</text>
<text transform="translate(764.0 189.0) scale(1.0412 1)">Initial power allocation for the lithium battery</text>
</g>
</svg>
</body>
</html>
